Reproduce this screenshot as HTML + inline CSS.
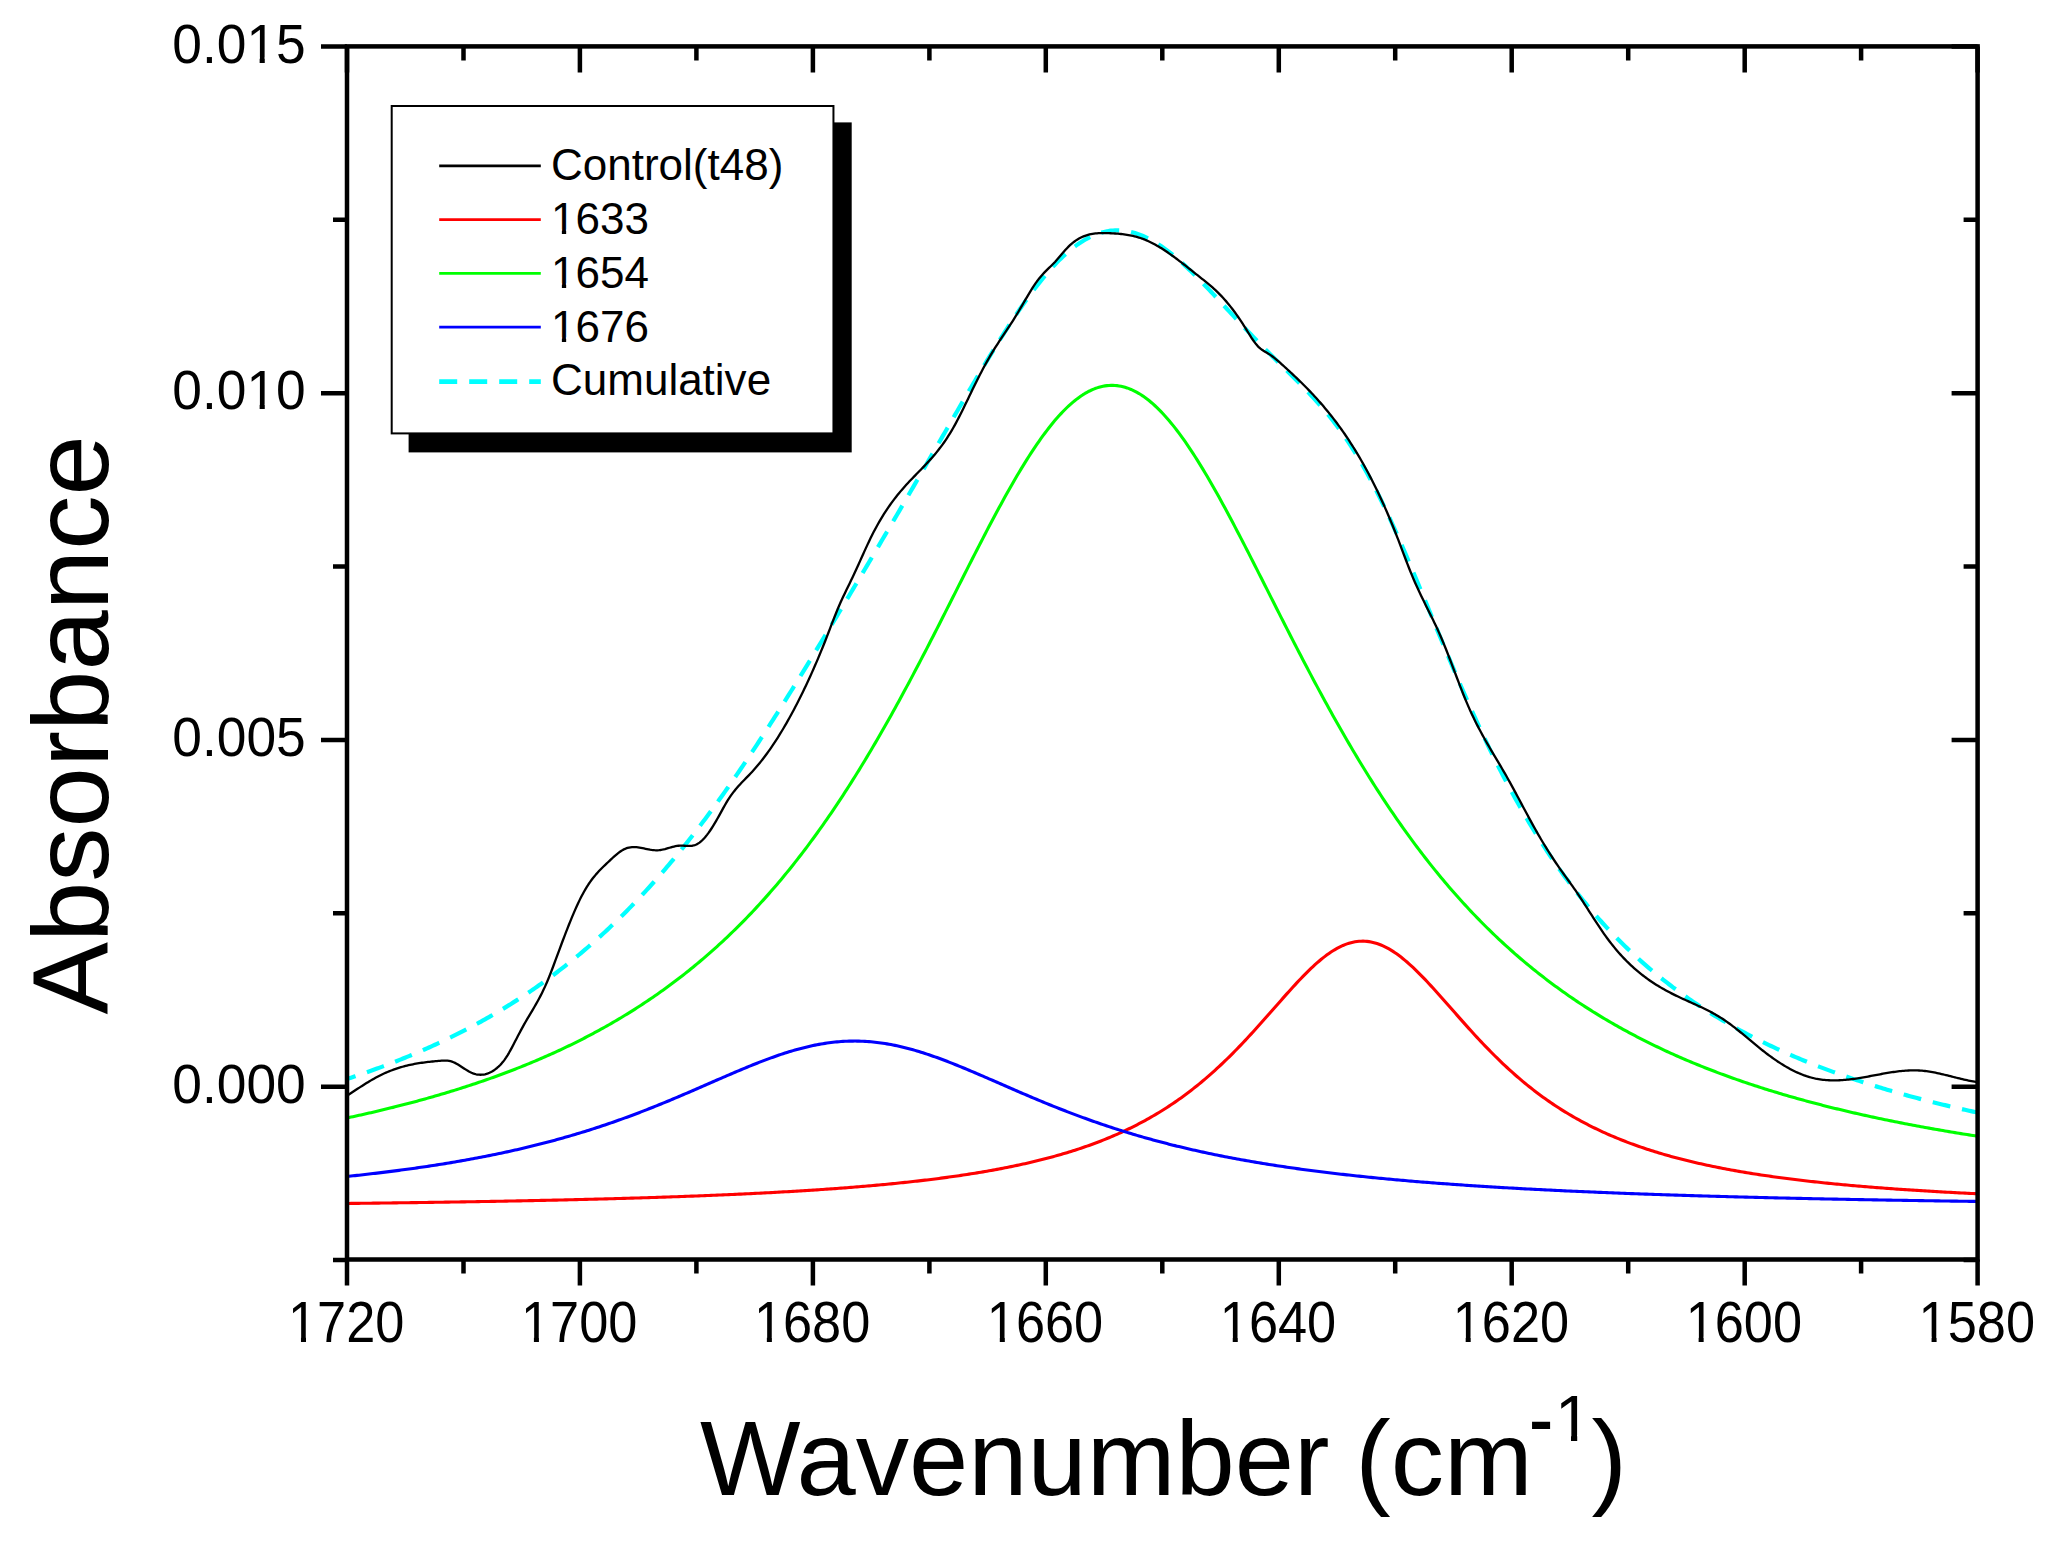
<!DOCTYPE html>
<html><head><meta charset="utf-8"><style>
html,body{margin:0;padding:0;background:#fff;}
body{width:2057px;height:1543px;overflow:hidden;}
svg{display:block;}
text{font-family:"Liberation Sans",Arial,sans-serif;fill:#000;}
</style></head><body>
<svg width="2057" height="1543" viewBox="0 0 2057 1543">
<rect width="2057" height="1543" fill="#fff"/>
<defs><clipPath id="pa"><rect x="347.0" y="46.4" width="1630.6" height="1213.1"/></clipPath>
<clipPath id="c0"><rect x="-67.83" y="-56.50" width="135.66" height="51.19"/><rect x="-67.83" y="-5.65" width="7.79" height="19.77"/><rect x="-48.85" y="-5.65" width="5.43" height="19.77"/><rect x="-32.68" y="-5.65" width="100.51" height="19.77"/></clipPath><clipPath id="c1"><rect x="-67.83" y="-56.50" width="135.66" height="51.19"/><rect x="-67.83" y="-5.65" width="7.79" height="19.77"/><rect x="-48.85" y="-5.65" width="5.43" height="19.77"/><rect x="-32.68" y="-5.65" width="100.51" height="19.77"/></clipPath><clipPath id="c2"><rect x="-67.83" y="-56.50" width="135.66" height="51.19"/><rect x="-67.83" y="-5.65" width="7.79" height="19.77"/><rect x="-48.85" y="-5.65" width="5.43" height="19.77"/><rect x="-32.68" y="-5.65" width="100.51" height="19.77"/></clipPath><clipPath id="c3"><rect x="-67.83" y="-56.50" width="135.66" height="51.19"/><rect x="-67.83" y="-5.65" width="7.79" height="19.77"/><rect x="-48.85" y="-5.65" width="5.43" height="19.77"/><rect x="-32.68" y="-5.65" width="100.51" height="19.77"/></clipPath><clipPath id="c4"><rect x="-67.83" y="-56.50" width="135.66" height="51.19"/><rect x="-67.83" y="-5.65" width="7.79" height="19.77"/><rect x="-48.85" y="-5.65" width="5.43" height="19.77"/><rect x="-32.68" y="-5.65" width="100.51" height="19.77"/></clipPath><clipPath id="c5"><rect x="-67.83" y="-56.50" width="135.66" height="51.19"/><rect x="-67.83" y="-5.65" width="7.79" height="19.77"/><rect x="-48.85" y="-5.65" width="5.43" height="19.77"/><rect x="-32.68" y="-5.65" width="100.51" height="19.77"/></clipPath><clipPath id="c6"><rect x="-67.83" y="-56.50" width="135.66" height="51.19"/><rect x="-67.83" y="-5.65" width="7.79" height="19.77"/><rect x="-48.85" y="-5.65" width="5.43" height="19.77"/><rect x="-32.68" y="-5.65" width="100.51" height="19.77"/></clipPath><clipPath id="c7"><rect x="-67.83" y="-56.50" width="135.66" height="51.19"/><rect x="-67.83" y="-5.65" width="7.79" height="19.77"/><rect x="-48.85" y="-5.65" width="5.43" height="19.77"/><rect x="-32.68" y="-5.65" width="100.51" height="19.77"/></clipPath><clipPath id="c8"><rect x="-145.11" y="-56.00" width="150.11" height="50.74"/><rect x="-145.11" y="-5.60" width="85.60" height="19.60"/><rect x="-48.42" y="-5.60" width="5.38" height="19.60"/><rect x="-32.38" y="-5.60" width="37.38" height="19.60"/></clipPath><clipPath id="c9"><rect x="-145.11" y="-56.00" width="150.11" height="50.74"/><rect x="-145.11" y="-5.60" width="85.60" height="19.60"/><rect x="-48.42" y="-5.60" width="5.38" height="19.60"/><rect x="-32.38" y="-5.60" width="37.38" height="19.60"/></clipPath><clipPath id="c10"><rect x="-5.00" y="-45.00" width="110.08" height="40.77"/><rect x="-5.00" y="-4.50" width="6.92" height="15.75"/><rect x="11.10" y="-4.50" width="4.40" height="15.75"/><rect x="24.32" y="-4.50" width="80.77" height="15.75"/></clipPath><clipPath id="c11"><rect x="-5.00" y="-45.00" width="110.08" height="40.77"/><rect x="-5.00" y="-4.50" width="6.92" height="15.75"/><rect x="11.10" y="-4.50" width="4.40" height="15.75"/><rect x="24.32" y="-4.50" width="80.77" height="15.75"/></clipPath><clipPath id="c12"><rect x="-5.00" y="-45.00" width="110.08" height="40.77"/><rect x="-5.00" y="-4.50" width="6.92" height="15.75"/><rect x="11.10" y="-4.50" width="4.40" height="15.75"/><rect x="24.32" y="-4.50" width="80.77" height="15.75"/></clipPath><clipPath id="csup"><rect x="0" y="1300" width="1550" height="250"/><rect x="1550" y="1300" width="60" height="134.89"/><rect x="1571.02" y="1400" width="6.19" height="50"/><rect x="1590" y="1300" width="100" height="250"/></clipPath></defs>
<g clip-path="url(#pa)" fill="none" stroke-linejoin="round">
<path d="M347.0 1203.47 L349.0 1203.45 L351.0 1203.42 L353.0 1203.40 L355.0 1203.38 L357.0 1203.35 L359.0 1203.33 L361.0 1203.30 L363.0 1203.28 L365.0 1203.26 L367.0 1203.23 L369.0 1203.21 L371.0 1203.18 L373.0 1203.16 L375.0 1203.13 L377.0 1203.11 L379.0 1203.08 L381.0 1203.06 L383.0 1203.03 L385.0 1203.01 L387.0 1202.98 L389.0 1202.96 L391.0 1202.93 L393.0 1202.90 L395.0 1202.88 L397.0 1202.85 L399.0 1202.82 L401.0 1202.80 L403.0 1202.77 L405.0 1202.74 L407.0 1202.72 L409.0 1202.69 L411.0 1202.66 L413.0 1202.63 L415.0 1202.60 L417.0 1202.58 L419.0 1202.55 L421.0 1202.52 L423.0 1202.49 L425.0 1202.46 L427.0 1202.43 L429.0 1202.40 L431.0 1202.37 L433.0 1202.34 L435.0 1202.31 L437.0 1202.28 L439.0 1202.25 L441.0 1202.22 L443.0 1202.19 L445.0 1202.16 L447.0 1202.13 L449.0 1202.10 L451.0 1202.07 L453.0 1202.04 L455.0 1202.01 L457.0 1201.97 L459.0 1201.94 L461.0 1201.91 L463.0 1201.88 L465.0 1201.84 L467.0 1201.81 L469.0 1201.78 L471.0 1201.74 L473.0 1201.71 L475.0 1201.68 L477.0 1201.64 L479.0 1201.61 L481.0 1201.57 L483.0 1201.54 L485.0 1201.50 L487.0 1201.47 L489.0 1201.43 L491.0 1201.40 L493.0 1201.36 L495.0 1201.33 L497.0 1201.29 L499.0 1201.25 L501.0 1201.22 L503.0 1201.18 L505.0 1201.14 L507.0 1201.10 L509.0 1201.07 L511.0 1201.03 L513.0 1200.99 L515.0 1200.95 L517.0 1200.91 L519.0 1200.87 L521.0 1200.83 L523.0 1200.79 L525.0 1200.75 L527.0 1200.71 L529.0 1200.67 L531.0 1200.63 L533.0 1200.59 L535.0 1200.55 L537.0 1200.51 L539.0 1200.47 L541.0 1200.42 L543.0 1200.38 L545.0 1200.34 L547.0 1200.30 L549.0 1200.25 L551.0 1200.21 L553.0 1200.16 L555.0 1200.12 L557.0 1200.08 L559.0 1200.03 L561.0 1199.99 L563.0 1199.94 L565.0 1199.89 L567.0 1199.85 L569.0 1199.80 L571.0 1199.75 L573.0 1199.71 L575.0 1199.66 L577.0 1199.61 L579.0 1199.56 L581.0 1199.51 L583.0 1199.46 L585.0 1199.42 L587.0 1199.37 L589.0 1199.32 L591.0 1199.26 L593.0 1199.21 L595.0 1199.16 L597.0 1199.11 L599.0 1199.06 L601.0 1199.01 L603.0 1198.95 L605.0 1198.90 L607.0 1198.85 L609.0 1198.79 L611.0 1198.74 L613.0 1198.68 L615.0 1198.63 L617.0 1198.57 L619.0 1198.52 L621.0 1198.46 L623.0 1198.40 L625.0 1198.35 L627.0 1198.29 L629.0 1198.23 L631.0 1198.17 L633.0 1198.11 L635.0 1198.05 L637.0 1197.99 L639.0 1197.93 L641.0 1197.87 L643.0 1197.81 L645.0 1197.75 L647.0 1197.68 L649.0 1197.62 L651.0 1197.56 L653.0 1197.49 L655.0 1197.43 L657.0 1197.36 L659.0 1197.30 L661.0 1197.23 L663.0 1197.16 L665.0 1197.10 L667.0 1197.03 L669.0 1196.96 L671.0 1196.89 L673.0 1196.82 L675.0 1196.75 L677.0 1196.68 L679.0 1196.61 L681.0 1196.54 L683.0 1196.47 L685.0 1196.39 L687.0 1196.32 L689.0 1196.25 L691.0 1196.17 L693.0 1196.10 L695.0 1196.02 L697.0 1195.94 L699.0 1195.87 L701.0 1195.79 L703.0 1195.71 L705.0 1195.63 L707.0 1195.55 L709.0 1195.47 L711.0 1195.39 L713.0 1195.31 L715.0 1195.22 L717.0 1195.14 L719.0 1195.06 L721.0 1194.97 L723.0 1194.89 L725.0 1194.80 L727.0 1194.71 L729.0 1194.62 L731.0 1194.54 L733.0 1194.45 L735.0 1194.36 L737.0 1194.26 L739.0 1194.17 L741.0 1194.08 L743.0 1193.99 L745.0 1193.89 L747.0 1193.80 L749.0 1193.70 L751.0 1193.60 L753.0 1193.51 L755.0 1193.41 L757.0 1193.31 L759.0 1193.21 L761.0 1193.11 L763.0 1193.00 L765.0 1192.90 L767.0 1192.79 L769.0 1192.69 L771.0 1192.58 L773.0 1192.48 L775.0 1192.37 L777.0 1192.26 L779.0 1192.15 L781.0 1192.04 L783.0 1191.92 L785.0 1191.81 L787.0 1191.70 L789.0 1191.58 L791.0 1191.46 L793.0 1191.35 L795.0 1191.23 L797.0 1191.11 L799.0 1190.99 L801.0 1190.86 L803.0 1190.74 L805.0 1190.61 L807.0 1190.49 L809.0 1190.36 L811.0 1190.23 L813.0 1190.10 L815.0 1189.97 L817.0 1189.84 L819.0 1189.70 L821.0 1189.57 L823.0 1189.43 L825.0 1189.29 L827.0 1189.16 L829.0 1189.01 L831.0 1188.87 L833.0 1188.73 L835.0 1188.58 L837.0 1188.44 L839.0 1188.29 L841.0 1188.14 L843.0 1187.99 L845.0 1187.84 L847.0 1187.68 L849.0 1187.53 L851.0 1187.37 L853.0 1187.21 L855.0 1187.05 L857.0 1186.89 L859.0 1186.72 L861.0 1186.56 L863.0 1186.39 L865.0 1186.22 L867.0 1186.05 L869.0 1185.87 L871.0 1185.70 L873.0 1185.52 L875.0 1185.34 L877.0 1185.16 L879.0 1184.98 L881.0 1184.79 L883.0 1184.61 L885.0 1184.42 L887.0 1184.23 L889.0 1184.03 L891.0 1183.84 L893.0 1183.64 L895.0 1183.44 L897.0 1183.24 L899.0 1183.04 L901.0 1182.83 L903.0 1182.62 L905.0 1182.41 L907.0 1182.19 L909.0 1181.98 L911.0 1181.76 L913.0 1181.54 L915.0 1181.32 L917.0 1181.09 L919.0 1180.86 L921.0 1180.63 L923.0 1180.39 L925.0 1180.16 L927.0 1179.92 L929.0 1179.67 L931.0 1179.43 L933.0 1179.18 L935.0 1178.93 L937.0 1178.67 L939.0 1178.42 L941.0 1178.16 L943.0 1177.89 L945.0 1177.63 L947.0 1177.36 L949.0 1177.08 L951.0 1176.81 L953.0 1176.52 L955.0 1176.24 L957.0 1175.95 L959.0 1175.66 L961.0 1175.37 L963.0 1175.07 L965.0 1174.77 L967.0 1174.46 L969.0 1174.15 L971.0 1173.84 L973.0 1173.52 L975.0 1173.20 L977.0 1172.88 L979.0 1172.55 L981.0 1172.21 L983.0 1171.87 L985.0 1171.53 L987.0 1171.18 L989.0 1170.83 L991.0 1170.48 L993.0 1170.12 L995.0 1169.75 L997.0 1169.38 L999.0 1169.00 L1001.0 1168.62 L1003.0 1168.24 L1005.0 1167.85 L1007.0 1167.45 L1009.0 1167.05 L1011.0 1166.64 L1013.0 1166.23 L1015.0 1165.82 L1017.0 1165.39 L1019.0 1164.96 L1021.0 1164.53 L1023.0 1164.09 L1025.0 1163.64 L1027.0 1163.19 L1029.0 1162.73 L1031.0 1162.26 L1033.0 1161.79 L1035.0 1161.31 L1037.0 1160.82 L1039.0 1160.33 L1041.0 1159.83 L1043.0 1159.33 L1045.0 1158.81 L1047.0 1158.29 L1049.0 1157.76 L1051.0 1157.23 L1053.0 1156.68 L1055.0 1156.13 L1057.0 1155.57 L1059.0 1155.00 L1061.0 1154.43 L1063.0 1153.84 L1065.0 1153.25 L1067.0 1152.65 L1069.0 1152.04 L1071.0 1151.42 L1073.0 1150.79 L1075.0 1150.15 L1077.0 1149.51 L1079.0 1148.85 L1081.0 1148.18 L1083.0 1147.51 L1085.0 1146.82 L1087.0 1146.12 L1089.0 1145.42 L1091.0 1144.70 L1093.0 1143.97 L1095.0 1143.23 L1097.0 1142.48 L1099.0 1141.71 L1101.0 1140.94 L1103.0 1140.15 L1105.0 1139.36 L1107.0 1138.55 L1109.0 1137.72 L1111.0 1136.89 L1113.0 1136.04 L1115.0 1135.18 L1117.0 1134.30 L1119.0 1133.42 L1121.0 1132.51 L1123.0 1131.60 L1125.0 1130.67 L1127.0 1129.72 L1129.0 1128.77 L1131.0 1127.79 L1133.0 1126.80 L1135.0 1125.80 L1137.0 1124.78 L1139.0 1123.74 L1141.0 1122.69 L1143.0 1121.62 L1145.0 1120.54 L1147.0 1119.44 L1149.0 1118.32 L1151.0 1117.18 L1153.0 1116.03 L1155.0 1114.86 L1157.0 1113.67 L1159.0 1112.46 L1161.0 1111.24 L1163.0 1109.99 L1165.0 1108.73 L1167.0 1107.44 L1169.0 1106.14 L1171.0 1104.82 L1173.0 1103.47 L1175.0 1102.11 L1177.0 1100.73 L1179.0 1099.32 L1181.0 1097.90 L1183.0 1096.45 L1185.0 1094.98 L1187.0 1093.49 L1189.0 1091.98 L1191.0 1090.45 L1193.0 1088.89 L1195.0 1087.32 L1197.0 1085.72 L1199.0 1084.09 L1201.0 1082.45 L1203.0 1080.78 L1205.0 1079.09 L1207.0 1077.38 L1209.0 1075.64 L1211.0 1073.88 L1213.0 1072.10 L1215.0 1070.30 L1217.0 1068.47 L1219.0 1066.62 L1221.0 1064.75 L1223.0 1062.85 L1225.0 1060.93 L1227.0 1059.00 L1229.0 1057.03 L1231.0 1055.05 L1233.0 1053.05 L1235.0 1051.02 L1237.0 1048.98 L1239.0 1046.91 L1241.0 1044.83 L1243.0 1042.73 L1245.0 1040.61 L1247.0 1038.47 L1249.0 1036.31 L1251.0 1034.14 L1253.0 1031.95 L1255.0 1029.75 L1257.0 1027.54 L1259.0 1025.31 L1261.0 1023.08 L1263.0 1020.83 L1265.0 1018.57 L1267.0 1016.31 L1269.0 1014.04 L1271.0 1011.77 L1273.0 1009.50 L1275.0 1007.22 L1277.0 1004.95 L1279.0 1002.67 L1281.0 1000.41 L1283.0 998.15 L1285.0 995.89 L1287.0 993.65 L1289.0 991.42 L1291.0 989.21 L1293.0 987.01 L1295.0 984.83 L1297.0 982.68 L1299.0 980.55 L1301.0 978.45 L1303.0 976.38 L1305.0 974.34 L1307.0 972.33 L1309.0 970.37 L1311.0 968.44 L1313.0 966.56 L1315.0 964.73 L1317.0 962.95 L1319.0 961.21 L1321.0 959.54 L1323.0 957.92 L1325.0 956.36 L1327.0 954.86 L1329.0 953.43 L1331.0 952.07 L1333.0 950.78 L1335.0 949.56 L1337.0 948.41 L1339.0 947.35 L1341.0 946.36 L1343.0 945.45 L1345.0 944.63 L1347.0 943.89 L1349.0 943.24 L1351.0 942.67 L1353.0 942.19 L1355.0 941.81 L1357.0 941.51 L1359.0 941.30 L1361.0 941.19 L1363.0 941.16 L1365.0 941.23 L1367.0 941.39 L1369.0 941.64 L1371.0 941.98 L1373.0 942.41 L1375.0 942.93 L1377.0 943.54 L1379.0 944.23 L1381.0 945.01 L1383.0 945.87 L1385.0 946.82 L1387.0 947.84 L1389.0 948.95 L1391.0 950.13 L1393.0 951.38 L1395.0 952.71 L1397.0 954.10 L1399.0 955.57 L1401.0 957.09 L1403.0 958.68 L1405.0 960.33 L1407.0 962.03 L1409.0 963.79 L1411.0 965.60 L1413.0 967.45 L1415.0 969.35 L1417.0 971.30 L1419.0 973.28 L1421.0 975.30 L1423.0 977.36 L1425.0 979.44 L1427.0 981.56 L1429.0 983.70 L1431.0 985.87 L1433.0 988.05 L1435.0 990.26 L1437.0 992.48 L1439.0 994.72 L1441.0 996.96 L1443.0 999.22 L1445.0 1001.49 L1447.0 1003.76 L1449.0 1006.03 L1451.0 1008.30 L1453.0 1010.58 L1455.0 1012.85 L1457.0 1015.12 L1459.0 1017.39 L1461.0 1019.65 L1463.0 1021.90 L1465.0 1024.14 L1467.0 1026.37 L1469.0 1028.59 L1471.0 1030.80 L1473.0 1033.00 L1475.0 1035.18 L1477.0 1037.34 L1479.0 1039.49 L1481.0 1041.62 L1483.0 1043.73 L1485.0 1045.82 L1487.0 1047.90 L1489.0 1049.95 L1491.0 1051.99 L1493.0 1054.00 L1495.0 1056.00 L1497.0 1057.97 L1499.0 1059.92 L1501.0 1061.85 L1503.0 1063.76 L1505.0 1065.64 L1507.0 1067.50 L1509.0 1069.34 L1511.0 1071.16 L1513.0 1072.95 L1515.0 1074.72 L1517.0 1076.47 L1519.0 1078.20 L1521.0 1079.90 L1523.0 1081.58 L1525.0 1083.24 L1527.0 1084.87 L1529.0 1086.48 L1531.0 1088.07 L1533.0 1089.64 L1535.0 1091.18 L1537.0 1092.70 L1539.0 1094.20 L1541.0 1095.68 L1543.0 1097.14 L1545.0 1098.58 L1547.0 1099.99 L1549.0 1101.39 L1551.0 1102.76 L1553.0 1104.12 L1555.0 1105.45 L1557.0 1106.76 L1559.0 1108.06 L1561.0 1109.33 L1563.0 1110.59 L1565.0 1111.82 L1567.0 1113.04 L1569.0 1114.24 L1571.0 1115.42 L1573.0 1116.58 L1575.0 1117.73 L1577.0 1118.85 L1579.0 1119.96 L1581.0 1121.06 L1583.0 1122.13 L1585.0 1123.19 L1587.0 1124.24 L1589.0 1125.27 L1591.0 1126.28 L1593.0 1127.28 L1595.0 1128.26 L1597.0 1129.22 L1599.0 1130.18 L1601.0 1131.11 L1603.0 1132.04 L1605.0 1132.95 L1607.0 1133.84 L1609.0 1134.72 L1611.0 1135.59 L1613.0 1136.45 L1615.0 1137.29 L1617.0 1138.12 L1619.0 1138.93 L1621.0 1139.74 L1623.0 1140.53 L1625.0 1141.31 L1627.0 1142.08 L1629.0 1142.84 L1631.0 1143.58 L1633.0 1144.32 L1635.0 1145.04 L1637.0 1145.75 L1639.0 1146.46 L1641.0 1147.15 L1643.0 1147.83 L1645.0 1148.50 L1647.0 1149.16 L1649.0 1149.82 L1651.0 1150.46 L1653.0 1151.09 L1655.0 1151.72 L1657.0 1152.33 L1659.0 1152.94 L1661.0 1153.53 L1663.0 1154.12 L1665.0 1154.70 L1667.0 1155.28 L1669.0 1155.84 L1671.0 1156.40 L1673.0 1156.94 L1675.0 1157.48 L1677.0 1158.02 L1679.0 1158.54 L1681.0 1159.06 L1683.0 1159.57 L1685.0 1160.07 L1687.0 1160.57 L1689.0 1161.06 L1691.0 1161.54 L1693.0 1162.01 L1695.0 1162.48 L1697.0 1162.95 L1699.0 1163.40 L1701.0 1163.85 L1703.0 1164.30 L1705.0 1164.74 L1707.0 1165.17 L1709.0 1165.59 L1711.0 1166.01 L1713.0 1166.43 L1715.0 1166.84 L1717.0 1167.24 L1719.0 1167.64 L1721.0 1168.03 L1723.0 1168.42 L1725.0 1168.81 L1727.0 1169.18 L1729.0 1169.56 L1731.0 1169.92 L1733.0 1170.29 L1735.0 1170.65 L1737.0 1171.00 L1739.0 1171.35 L1741.0 1171.69 L1743.0 1172.04 L1745.0 1172.37 L1747.0 1172.70 L1749.0 1173.03 L1751.0 1173.35 L1753.0 1173.67 L1755.0 1173.99 L1757.0 1174.30 L1759.0 1174.61 L1761.0 1174.91 L1763.0 1175.21 L1765.0 1175.51 L1767.0 1175.80 L1769.0 1176.09 L1771.0 1176.38 L1773.0 1176.66 L1775.0 1176.94 L1777.0 1177.21 L1779.0 1177.48 L1781.0 1177.75 L1783.0 1178.02 L1785.0 1178.28 L1787.0 1178.54 L1789.0 1178.80 L1791.0 1179.05 L1793.0 1179.30 L1795.0 1179.55 L1797.0 1179.79 L1799.0 1180.03 L1801.0 1180.27 L1803.0 1180.51 L1805.0 1180.74 L1807.0 1180.97 L1809.0 1181.20 L1811.0 1181.42 L1813.0 1181.64 L1815.0 1181.86 L1817.0 1182.08 L1819.0 1182.30 L1821.0 1182.51 L1823.0 1182.72 L1825.0 1182.93 L1827.0 1183.13 L1829.0 1183.34 L1831.0 1183.54 L1833.0 1183.74 L1835.0 1183.93 L1837.0 1184.13 L1839.0 1184.32 L1841.0 1184.51 L1843.0 1184.70 L1845.0 1184.88 L1847.0 1185.07 L1849.0 1185.25 L1851.0 1185.43 L1853.0 1185.61 L1855.0 1185.78 L1857.0 1185.96 L1859.0 1186.13 L1861.0 1186.30 L1863.0 1186.47 L1865.0 1186.63 L1867.0 1186.80 L1869.0 1186.96 L1871.0 1187.13 L1873.0 1187.29 L1875.0 1187.44 L1877.0 1187.60 L1879.0 1187.76 L1881.0 1187.91 L1883.0 1188.06 L1885.0 1188.21 L1887.0 1188.36 L1889.0 1188.51 L1891.0 1188.65 L1893.0 1188.80 L1895.0 1188.94 L1897.0 1189.08 L1899.0 1189.22 L1901.0 1189.36 L1903.0 1189.50 L1905.0 1189.63 L1907.0 1189.77 L1909.0 1189.90 L1911.0 1190.03 L1913.0 1190.16 L1915.0 1190.29 L1917.0 1190.42 L1919.0 1190.55 L1921.0 1190.67 L1923.0 1190.80 L1925.0 1190.92 L1927.0 1191.04 L1929.0 1191.16 L1931.0 1191.28 L1933.0 1191.40 L1935.0 1191.52 L1937.0 1191.64 L1939.0 1191.75 L1941.0 1191.87 L1943.0 1191.98 L1945.0 1192.09 L1947.0 1192.20 L1949.0 1192.31 L1951.0 1192.42 L1953.0 1192.53 L1955.0 1192.63 L1957.0 1192.74 L1959.0 1192.84 L1961.0 1192.95 L1963.0 1193.05 L1965.0 1193.15 L1967.0 1193.25 L1969.0 1193.35 L1971.0 1193.45 L1973.0 1193.55 L1975.0 1193.65 L1977.0 1193.75" stroke="#ff0000" stroke-width="3.1"/>
<path d="M347.0 1176.46 L349.0 1176.25 L351.0 1176.04 L353.0 1175.83 L355.0 1175.61 L357.0 1175.39 L359.0 1175.17 L361.0 1174.95 L363.0 1174.73 L365.0 1174.50 L367.0 1174.28 L369.0 1174.05 L371.0 1173.82 L373.0 1173.58 L375.0 1173.35 L377.0 1173.11 L379.0 1172.87 L381.0 1172.63 L383.0 1172.38 L385.0 1172.14 L387.0 1171.89 L389.0 1171.64 L391.0 1171.39 L393.0 1171.13 L395.0 1170.87 L397.0 1170.61 L399.0 1170.35 L401.0 1170.08 L403.0 1169.82 L405.0 1169.55 L407.0 1169.28 L409.0 1169.00 L411.0 1168.72 L413.0 1168.44 L415.0 1168.16 L417.0 1167.88 L419.0 1167.59 L421.0 1167.30 L423.0 1167.01 L425.0 1166.71 L427.0 1166.41 L429.0 1166.11 L431.0 1165.81 L433.0 1165.50 L435.0 1165.19 L437.0 1164.88 L439.0 1164.56 L441.0 1164.24 L443.0 1163.92 L445.0 1163.60 L447.0 1163.27 L449.0 1162.94 L451.0 1162.61 L453.0 1162.27 L455.0 1161.93 L457.0 1161.59 L459.0 1161.24 L461.0 1160.89 L463.0 1160.54 L465.0 1160.18 L467.0 1159.82 L469.0 1159.46 L471.0 1159.09 L473.0 1158.72 L475.0 1158.35 L477.0 1157.97 L479.0 1157.59 L481.0 1157.21 L483.0 1156.82 L485.0 1156.43 L487.0 1156.04 L489.0 1155.64 L491.0 1155.23 L493.0 1154.83 L495.0 1154.42 L497.0 1154.00 L499.0 1153.59 L501.0 1153.16 L503.0 1152.74 L505.0 1152.31 L507.0 1151.87 L509.0 1151.43 L511.0 1150.99 L513.0 1150.55 L515.0 1150.10 L517.0 1149.64 L519.0 1149.18 L521.0 1148.72 L523.0 1148.25 L525.0 1147.78 L527.0 1147.30 L529.0 1146.82 L531.0 1146.33 L533.0 1145.84 L535.0 1145.35 L537.0 1144.85 L539.0 1144.35 L541.0 1143.84 L543.0 1143.32 L545.0 1142.81 L547.0 1142.28 L549.0 1141.76 L551.0 1141.22 L553.0 1140.69 L555.0 1140.14 L557.0 1139.60 L559.0 1139.04 L561.0 1138.49 L563.0 1137.92 L565.0 1137.36 L567.0 1136.79 L569.0 1136.21 L571.0 1135.63 L573.0 1135.04 L575.0 1134.45 L577.0 1133.85 L579.0 1133.24 L581.0 1132.64 L583.0 1132.02 L585.0 1131.40 L587.0 1130.78 L589.0 1130.15 L591.0 1129.51 L593.0 1128.87 L595.0 1128.23 L597.0 1127.58 L599.0 1126.92 L601.0 1126.26 L603.0 1125.59 L605.0 1124.92 L607.0 1124.24 L609.0 1123.56 L611.0 1122.87 L613.0 1122.18 L615.0 1121.48 L617.0 1120.77 L619.0 1120.06 L621.0 1119.35 L623.0 1118.63 L625.0 1117.90 L627.0 1117.17 L629.0 1116.44 L631.0 1115.70 L633.0 1114.95 L635.0 1114.20 L637.0 1113.44 L639.0 1112.68 L641.0 1111.91 L643.0 1111.14 L645.0 1110.36 L647.0 1109.58 L649.0 1108.80 L651.0 1108.01 L653.0 1107.21 L655.0 1106.41 L657.0 1105.61 L659.0 1104.80 L661.0 1103.99 L663.0 1103.17 L665.0 1102.35 L667.0 1101.52 L669.0 1100.70 L671.0 1099.86 L673.0 1099.03 L675.0 1098.19 L677.0 1097.34 L679.0 1096.50 L681.0 1095.65 L683.0 1094.80 L685.0 1093.94 L687.0 1093.08 L689.0 1092.22 L691.0 1091.36 L693.0 1090.50 L695.0 1089.63 L697.0 1088.76 L699.0 1087.89 L701.0 1087.02 L703.0 1086.15 L705.0 1085.28 L707.0 1084.41 L709.0 1083.53 L711.0 1082.66 L713.0 1081.79 L715.0 1080.91 L717.0 1080.04 L719.0 1079.17 L721.0 1078.30 L723.0 1077.43 L725.0 1076.57 L727.0 1075.70 L729.0 1074.84 L731.0 1073.98 L733.0 1073.12 L735.0 1072.27 L737.0 1071.42 L739.0 1070.57 L741.0 1069.73 L743.0 1068.90 L745.0 1068.07 L747.0 1067.24 L749.0 1066.42 L751.0 1065.61 L753.0 1064.80 L755.0 1064.00 L757.0 1063.21 L759.0 1062.42 L761.0 1061.64 L763.0 1060.87 L765.0 1060.11 L767.0 1059.36 L769.0 1058.62 L771.0 1057.89 L773.0 1057.17 L775.0 1056.46 L777.0 1055.76 L779.0 1055.08 L781.0 1054.40 L783.0 1053.74 L785.0 1053.09 L787.0 1052.45 L789.0 1051.83 L791.0 1051.22 L793.0 1050.63 L795.0 1050.05 L797.0 1049.48 L799.0 1048.93 L801.0 1048.40 L803.0 1047.88 L805.0 1047.38 L807.0 1046.90 L809.0 1046.43 L811.0 1045.99 L813.0 1045.56 L815.0 1045.14 L817.0 1044.75 L819.0 1044.37 L821.0 1044.02 L823.0 1043.68 L825.0 1043.36 L827.0 1043.07 L829.0 1042.79 L831.0 1042.53 L833.0 1042.29 L835.0 1042.08 L837.0 1041.88 L839.0 1041.71 L841.0 1041.55 L843.0 1041.42 L845.0 1041.31 L847.0 1041.22 L849.0 1041.15 L851.0 1041.10 L853.0 1041.08 L855.0 1041.07 L857.0 1041.09 L859.0 1041.13 L861.0 1041.19 L863.0 1041.27 L865.0 1041.37 L867.0 1041.49 L869.0 1041.64 L871.0 1041.81 L873.0 1041.99 L875.0 1042.20 L877.0 1042.43 L879.0 1042.68 L881.0 1042.95 L883.0 1043.24 L885.0 1043.54 L887.0 1043.87 L889.0 1044.22 L891.0 1044.59 L893.0 1044.97 L895.0 1045.38 L897.0 1045.80 L899.0 1046.24 L901.0 1046.70 L903.0 1047.18 L905.0 1047.67 L907.0 1048.18 L909.0 1048.71 L911.0 1049.25 L913.0 1049.81 L915.0 1050.38 L917.0 1050.97 L919.0 1051.57 L921.0 1052.19 L923.0 1052.82 L925.0 1053.46 L927.0 1054.12 L929.0 1054.79 L931.0 1055.47 L933.0 1056.16 L935.0 1056.87 L937.0 1057.58 L939.0 1058.31 L941.0 1059.05 L943.0 1059.79 L945.0 1060.55 L947.0 1061.32 L949.0 1062.09 L951.0 1062.87 L953.0 1063.66 L955.0 1064.46 L957.0 1065.26 L959.0 1066.07 L961.0 1066.89 L963.0 1067.72 L965.0 1068.54 L967.0 1069.38 L969.0 1070.22 L971.0 1071.06 L973.0 1071.91 L975.0 1072.76 L977.0 1073.62 L979.0 1074.47 L981.0 1075.33 L983.0 1076.20 L985.0 1077.06 L987.0 1077.93 L989.0 1078.80 L991.0 1079.67 L993.0 1080.54 L995.0 1081.42 L997.0 1082.29 L999.0 1083.16 L1001.0 1084.04 L1003.0 1084.91 L1005.0 1085.78 L1007.0 1086.65 L1009.0 1087.53 L1011.0 1088.40 L1013.0 1089.26 L1015.0 1090.13 L1017.0 1091.00 L1019.0 1091.86 L1021.0 1092.72 L1023.0 1093.58 L1025.0 1094.43 L1027.0 1095.29 L1029.0 1096.14 L1031.0 1096.99 L1033.0 1097.83 L1035.0 1098.67 L1037.0 1099.51 L1039.0 1100.34 L1041.0 1101.17 L1043.0 1102.00 L1045.0 1102.82 L1047.0 1103.64 L1049.0 1104.46 L1051.0 1105.27 L1053.0 1106.07 L1055.0 1106.87 L1057.0 1107.67 L1059.0 1108.46 L1061.0 1109.25 L1063.0 1110.03 L1065.0 1110.81 L1067.0 1111.59 L1069.0 1112.35 L1071.0 1113.12 L1073.0 1113.88 L1075.0 1114.63 L1077.0 1115.38 L1079.0 1116.12 L1081.0 1116.86 L1083.0 1117.59 L1085.0 1118.32 L1087.0 1119.04 L1089.0 1119.76 L1091.0 1120.47 L1093.0 1121.18 L1095.0 1121.88 L1097.0 1122.58 L1099.0 1123.27 L1101.0 1123.95 L1103.0 1124.63 L1105.0 1125.31 L1107.0 1125.98 L1109.0 1126.64 L1111.0 1127.30 L1113.0 1127.95 L1115.0 1128.60 L1117.0 1129.24 L1119.0 1129.88 L1121.0 1130.51 L1123.0 1131.14 L1125.0 1131.76 L1127.0 1132.38 L1129.0 1132.99 L1131.0 1133.59 L1133.0 1134.19 L1135.0 1134.79 L1137.0 1135.38 L1139.0 1135.96 L1141.0 1136.54 L1143.0 1137.12 L1145.0 1137.68 L1147.0 1138.25 L1149.0 1138.81 L1151.0 1139.36 L1153.0 1139.91 L1155.0 1140.46 L1157.0 1141.00 L1159.0 1141.53 L1161.0 1142.06 L1163.0 1142.58 L1165.0 1143.10 L1167.0 1143.62 L1169.0 1144.13 L1171.0 1144.64 L1173.0 1145.14 L1175.0 1145.63 L1177.0 1146.13 L1179.0 1146.61 L1181.0 1147.10 L1183.0 1147.58 L1185.0 1148.05 L1187.0 1148.52 L1189.0 1148.98 L1191.0 1149.45 L1193.0 1149.90 L1195.0 1150.36 L1197.0 1150.80 L1199.0 1151.25 L1201.0 1151.69 L1203.0 1152.12 L1205.0 1152.56 L1207.0 1152.98 L1209.0 1153.41 L1211.0 1153.83 L1213.0 1154.24 L1215.0 1154.65 L1217.0 1155.06 L1219.0 1155.47 L1221.0 1155.87 L1223.0 1156.26 L1225.0 1156.66 L1227.0 1157.05 L1229.0 1157.43 L1231.0 1157.81 L1233.0 1158.19 L1235.0 1158.57 L1237.0 1158.94 L1239.0 1159.31 L1241.0 1159.67 L1243.0 1160.03 L1245.0 1160.39 L1247.0 1160.74 L1249.0 1161.09 L1251.0 1161.44 L1253.0 1161.79 L1255.0 1162.13 L1257.0 1162.47 L1259.0 1162.80 L1261.0 1163.13 L1263.0 1163.46 L1265.0 1163.79 L1267.0 1164.11 L1269.0 1164.43 L1271.0 1164.75 L1273.0 1165.06 L1275.0 1165.37 L1277.0 1165.68 L1279.0 1165.98 L1281.0 1166.29 L1283.0 1166.58 L1285.0 1166.88 L1287.0 1167.18 L1289.0 1167.47 L1291.0 1167.76 L1293.0 1168.04 L1295.0 1168.32 L1297.0 1168.61 L1299.0 1168.88 L1301.0 1169.16 L1303.0 1169.43 L1305.0 1169.70 L1307.0 1169.97 L1309.0 1170.24 L1311.0 1170.50 L1313.0 1170.76 L1315.0 1171.02 L1317.0 1171.28 L1319.0 1171.53 L1321.0 1171.78 L1323.0 1172.03 L1325.0 1172.28 L1327.0 1172.52 L1329.0 1172.77 L1331.0 1173.01 L1333.0 1173.25 L1335.0 1173.48 L1337.0 1173.72 L1339.0 1173.95 L1341.0 1174.18 L1343.0 1174.41 L1345.0 1174.63 L1347.0 1174.86 L1349.0 1175.08 L1351.0 1175.30 L1353.0 1175.52 L1355.0 1175.73 L1357.0 1175.95 L1359.0 1176.16 L1361.0 1176.37 L1363.0 1176.58 L1365.0 1176.79 L1367.0 1176.99 L1369.0 1177.20 L1371.0 1177.40 L1373.0 1177.60 L1375.0 1177.80 L1377.0 1177.99 L1379.0 1178.19 L1381.0 1178.38 L1383.0 1178.57 L1385.0 1178.76 L1387.0 1178.95 L1389.0 1179.14 L1391.0 1179.32 L1393.0 1179.51 L1395.0 1179.69 L1397.0 1179.87 L1399.0 1180.05 L1401.0 1180.23 L1403.0 1180.40 L1405.0 1180.58 L1407.0 1180.75 L1409.0 1180.92 L1411.0 1181.09 L1413.0 1181.26 L1415.0 1181.43 L1417.0 1181.59 L1419.0 1181.76 L1421.0 1181.92 L1423.0 1182.08 L1425.0 1182.24 L1427.0 1182.40 L1429.0 1182.56 L1431.0 1182.72 L1433.0 1182.87 L1435.0 1183.03 L1437.0 1183.18 L1439.0 1183.33 L1441.0 1183.48 L1443.0 1183.63 L1445.0 1183.78 L1447.0 1183.92 L1449.0 1184.07 L1451.0 1184.21 L1453.0 1184.36 L1455.0 1184.50 L1457.0 1184.64 L1459.0 1184.78 L1461.0 1184.92 L1463.0 1185.06 L1465.0 1185.19 L1467.0 1185.33 L1469.0 1185.46 L1471.0 1185.60 L1473.0 1185.73 L1475.0 1185.86 L1477.0 1185.99 L1479.0 1186.12 L1481.0 1186.25 L1483.0 1186.37 L1485.0 1186.50 L1487.0 1186.62 L1489.0 1186.75 L1491.0 1186.87 L1493.0 1186.99 L1495.0 1187.12 L1497.0 1187.24 L1499.0 1187.36 L1501.0 1187.47 L1503.0 1187.59 L1505.0 1187.71 L1507.0 1187.82 L1509.0 1187.94 L1511.0 1188.05 L1513.0 1188.17 L1515.0 1188.28 L1517.0 1188.39 L1519.0 1188.50 L1521.0 1188.61 L1523.0 1188.72 L1525.0 1188.83 L1527.0 1188.94 L1529.0 1189.04 L1531.0 1189.15 L1533.0 1189.25 L1535.0 1189.36 L1537.0 1189.46 L1539.0 1189.56 L1541.0 1189.67 L1543.0 1189.77 L1545.0 1189.87 L1547.0 1189.97 L1549.0 1190.07 L1551.0 1190.17 L1553.0 1190.26 L1555.0 1190.36 L1557.0 1190.46 L1559.0 1190.55 L1561.0 1190.65 L1563.0 1190.74 L1565.0 1190.83 L1567.0 1190.93 L1569.0 1191.02 L1571.0 1191.11 L1573.0 1191.20 L1575.0 1191.29 L1577.0 1191.38 L1579.0 1191.47 L1581.0 1191.56 L1583.0 1191.65 L1585.0 1191.73 L1587.0 1191.82 L1589.0 1191.90 L1591.0 1191.99 L1593.0 1192.07 L1595.0 1192.16 L1597.0 1192.24 L1599.0 1192.33 L1601.0 1192.41 L1603.0 1192.49 L1605.0 1192.57 L1607.0 1192.65 L1609.0 1192.73 L1611.0 1192.81 L1613.0 1192.89 L1615.0 1192.97 L1617.0 1193.05 L1619.0 1193.12 L1621.0 1193.20 L1623.0 1193.28 L1625.0 1193.35 L1627.0 1193.43 L1629.0 1193.50 L1631.0 1193.58 L1633.0 1193.65 L1635.0 1193.72 L1637.0 1193.80 L1639.0 1193.87 L1641.0 1193.94 L1643.0 1194.01 L1645.0 1194.08 L1647.0 1194.15 L1649.0 1194.22 L1651.0 1194.29 L1653.0 1194.36 L1655.0 1194.43 L1657.0 1194.50 L1659.0 1194.56 L1661.0 1194.63 L1663.0 1194.70 L1665.0 1194.76 L1667.0 1194.83 L1669.0 1194.90 L1671.0 1194.96 L1673.0 1195.03 L1675.0 1195.09 L1677.0 1195.15 L1679.0 1195.22 L1681.0 1195.28 L1683.0 1195.34 L1685.0 1195.40 L1687.0 1195.47 L1689.0 1195.53 L1691.0 1195.59 L1693.0 1195.65 L1695.0 1195.71 L1697.0 1195.77 L1699.0 1195.83 L1701.0 1195.89 L1703.0 1195.95 L1705.0 1196.00 L1707.0 1196.06 L1709.0 1196.12 L1711.0 1196.18 L1713.0 1196.23 L1715.0 1196.29 L1717.0 1196.35 L1719.0 1196.40 L1721.0 1196.46 L1723.0 1196.51 L1725.0 1196.57 L1727.0 1196.62 L1729.0 1196.68 L1731.0 1196.73 L1733.0 1196.78 L1735.0 1196.84 L1737.0 1196.89 L1739.0 1196.94 L1741.0 1196.99 L1743.0 1197.05 L1745.0 1197.10 L1747.0 1197.15 L1749.0 1197.20 L1751.0 1197.25 L1753.0 1197.30 L1755.0 1197.35 L1757.0 1197.40 L1759.0 1197.45 L1761.0 1197.50 L1763.0 1197.55 L1765.0 1197.60 L1767.0 1197.64 L1769.0 1197.69 L1771.0 1197.74 L1773.0 1197.79 L1775.0 1197.83 L1777.0 1197.88 L1779.0 1197.93 L1781.0 1197.97 L1783.0 1198.02 L1785.0 1198.06 L1787.0 1198.11 L1789.0 1198.16 L1791.0 1198.20 L1793.0 1198.24 L1795.0 1198.29 L1797.0 1198.33 L1799.0 1198.38 L1801.0 1198.42 L1803.0 1198.46 L1805.0 1198.51 L1807.0 1198.55 L1809.0 1198.59 L1811.0 1198.64 L1813.0 1198.68 L1815.0 1198.72 L1817.0 1198.76 L1819.0 1198.80 L1821.0 1198.84 L1823.0 1198.88 L1825.0 1198.93 L1827.0 1198.97 L1829.0 1199.01 L1831.0 1199.05 L1833.0 1199.09 L1835.0 1199.13 L1837.0 1199.16 L1839.0 1199.20 L1841.0 1199.24 L1843.0 1199.28 L1845.0 1199.32 L1847.0 1199.36 L1849.0 1199.40 L1851.0 1199.43 L1853.0 1199.47 L1855.0 1199.51 L1857.0 1199.55 L1859.0 1199.58 L1861.0 1199.62 L1863.0 1199.66 L1865.0 1199.69 L1867.0 1199.73 L1869.0 1199.77 L1871.0 1199.80 L1873.0 1199.84 L1875.0 1199.87 L1877.0 1199.91 L1879.0 1199.94 L1881.0 1199.98 L1883.0 1200.01 L1885.0 1200.05 L1887.0 1200.08 L1889.0 1200.12 L1891.0 1200.15 L1893.0 1200.18 L1895.0 1200.22 L1897.0 1200.25 L1899.0 1200.28 L1901.0 1200.32 L1903.0 1200.35 L1905.0 1200.38 L1907.0 1200.41 L1909.0 1200.45 L1911.0 1200.48 L1913.0 1200.51 L1915.0 1200.54 L1917.0 1200.57 L1919.0 1200.61 L1921.0 1200.64 L1923.0 1200.67 L1925.0 1200.70 L1927.0 1200.73 L1929.0 1200.76 L1931.0 1200.79 L1933.0 1200.82 L1935.0 1200.85 L1937.0 1200.88 L1939.0 1200.91 L1941.0 1200.94 L1943.0 1200.97 L1945.0 1201.00 L1947.0 1201.03 L1949.0 1201.06 L1951.0 1201.09 L1953.0 1201.12 L1955.0 1201.15 L1957.0 1201.17 L1959.0 1201.20 L1961.0 1201.23 L1963.0 1201.26 L1965.0 1201.29 L1967.0 1201.31 L1969.0 1201.34 L1971.0 1201.37 L1973.0 1201.40 L1975.0 1201.42 L1977.0 1201.45" stroke="#0000ff" stroke-width="3.1"/>
<path d="M347.0 1117.95 L349.0 1117.52 L351.0 1117.09 L353.0 1116.66 L355.0 1116.23 L357.0 1115.79 L359.0 1115.35 L361.0 1114.90 L363.0 1114.46 L365.0 1114.00 L367.0 1113.55 L369.0 1113.09 L371.0 1112.64 L373.0 1112.17 L375.0 1111.71 L377.0 1111.24 L379.0 1110.76 L381.0 1110.29 L383.0 1109.81 L385.0 1109.33 L387.0 1108.84 L389.0 1108.35 L391.0 1107.86 L393.0 1107.37 L395.0 1106.87 L397.0 1106.36 L399.0 1105.86 L401.0 1105.35 L403.0 1104.83 L405.0 1104.32 L407.0 1103.80 L409.0 1103.27 L411.0 1102.74 L413.0 1102.21 L415.0 1101.68 L417.0 1101.14 L419.0 1100.59 L421.0 1100.05 L423.0 1099.49 L425.0 1098.94 L427.0 1098.38 L429.0 1097.82 L431.0 1097.25 L433.0 1096.68 L435.0 1096.10 L437.0 1095.52 L439.0 1094.94 L441.0 1094.35 L443.0 1093.76 L445.0 1093.16 L447.0 1092.56 L449.0 1091.96 L451.0 1091.35 L453.0 1090.73 L455.0 1090.11 L457.0 1089.49 L459.0 1088.86 L461.0 1088.23 L463.0 1087.59 L465.0 1086.95 L467.0 1086.30 L469.0 1085.65 L471.0 1084.99 L473.0 1084.33 L475.0 1083.66 L477.0 1082.99 L479.0 1082.31 L481.0 1081.63 L483.0 1080.94 L485.0 1080.25 L487.0 1079.55 L489.0 1078.85 L491.0 1078.14 L493.0 1077.43 L495.0 1076.71 L497.0 1075.99 L499.0 1075.26 L501.0 1074.52 L503.0 1073.78 L505.0 1073.03 L507.0 1072.28 L509.0 1071.52 L511.0 1070.75 L513.0 1069.98 L515.0 1069.21 L517.0 1068.42 L519.0 1067.63 L521.0 1066.84 L523.0 1066.04 L525.0 1065.23 L527.0 1064.42 L529.0 1063.60 L531.0 1062.77 L533.0 1061.94 L535.0 1061.10 L537.0 1060.25 L539.0 1059.40 L541.0 1058.54 L543.0 1057.67 L545.0 1056.79 L547.0 1055.91 L549.0 1055.03 L551.0 1054.13 L553.0 1053.23 L555.0 1052.32 L557.0 1051.40 L559.0 1050.48 L561.0 1049.54 L563.0 1048.61 L565.0 1047.66 L567.0 1046.70 L569.0 1045.74 L571.0 1044.77 L573.0 1043.79 L575.0 1042.81 L577.0 1041.81 L579.0 1040.81 L581.0 1039.80 L583.0 1038.78 L585.0 1037.75 L587.0 1036.72 L589.0 1035.67 L591.0 1034.62 L593.0 1033.56 L595.0 1032.49 L597.0 1031.41 L599.0 1030.32 L601.0 1029.22 L603.0 1028.11 L605.0 1027.00 L607.0 1025.87 L609.0 1024.74 L611.0 1023.59 L613.0 1022.44 L615.0 1021.27 L617.0 1020.10 L619.0 1018.92 L621.0 1017.72 L623.0 1016.52 L625.0 1015.30 L627.0 1014.08 L629.0 1012.85 L631.0 1011.60 L633.0 1010.34 L635.0 1009.08 L637.0 1007.80 L639.0 1006.51 L641.0 1005.21 L643.0 1003.90 L645.0 1002.58 L647.0 1001.25 L649.0 999.90 L651.0 998.55 L653.0 997.18 L655.0 995.80 L657.0 994.41 L659.0 993.01 L661.0 991.59 L663.0 990.16 L665.0 988.72 L667.0 987.27 L669.0 985.81 L671.0 984.33 L673.0 982.84 L675.0 981.33 L677.0 979.82 L679.0 978.29 L681.0 976.74 L683.0 975.19 L685.0 973.62 L687.0 972.03 L689.0 970.44 L691.0 968.82 L693.0 967.20 L695.0 965.56 L697.0 963.90 L699.0 962.23 L701.0 960.55 L703.0 958.85 L705.0 957.14 L707.0 955.41 L709.0 953.67 L711.0 951.91 L713.0 950.13 L715.0 948.34 L717.0 946.54 L719.0 944.72 L721.0 942.88 L723.0 941.03 L725.0 939.16 L727.0 937.27 L729.0 935.37 L731.0 933.45 L733.0 931.51 L735.0 929.56 L737.0 927.59 L739.0 925.60 L741.0 923.60 L743.0 921.58 L745.0 919.54 L747.0 917.48 L749.0 915.41 L751.0 913.31 L753.0 911.20 L755.0 909.07 L757.0 906.92 L759.0 904.76 L761.0 902.57 L763.0 900.36 L765.0 898.14 L767.0 895.90 L769.0 893.64 L771.0 891.35 L773.0 889.05 L775.0 886.73 L777.0 884.39 L779.0 882.03 L781.0 879.65 L783.0 877.25 L785.0 874.83 L787.0 872.39 L789.0 869.92 L791.0 867.44 L793.0 864.94 L795.0 862.41 L797.0 859.86 L799.0 857.30 L801.0 854.71 L803.0 852.10 L805.0 849.47 L807.0 846.82 L809.0 844.14 L811.0 841.44 L813.0 838.73 L815.0 835.99 L817.0 833.22 L819.0 830.44 L821.0 827.63 L823.0 824.81 L825.0 821.95 L827.0 819.08 L829.0 816.19 L831.0 813.27 L833.0 810.33 L835.0 807.37 L837.0 804.38 L839.0 801.37 L841.0 798.34 L843.0 795.29 L845.0 792.21 L847.0 789.12 L849.0 786.00 L851.0 782.85 L853.0 779.69 L855.0 776.50 L857.0 773.29 L859.0 770.06 L861.0 766.80 L863.0 763.52 L865.0 760.22 L867.0 756.90 L869.0 753.56 L871.0 750.20 L873.0 746.81 L875.0 743.40 L877.0 739.97 L879.0 736.52 L881.0 733.05 L883.0 729.56 L885.0 726.05 L887.0 722.51 L889.0 718.96 L891.0 715.39 L893.0 711.80 L895.0 708.19 L897.0 704.56 L899.0 700.91 L901.0 697.24 L903.0 693.56 L905.0 689.85 L907.0 686.13 L909.0 682.40 L911.0 678.64 L913.0 674.88 L915.0 671.09 L917.0 667.29 L919.0 663.48 L921.0 659.65 L923.0 655.81 L925.0 651.96 L927.0 648.09 L929.0 644.22 L931.0 640.33 L933.0 636.43 L935.0 632.52 L937.0 628.61 L939.0 624.68 L941.0 620.75 L943.0 616.81 L945.0 612.87 L947.0 608.92 L949.0 604.97 L951.0 601.01 L953.0 597.05 L955.0 593.09 L957.0 589.13 L959.0 585.17 L961.0 581.21 L963.0 577.26 L965.0 573.31 L967.0 569.36 L969.0 565.42 L971.0 561.48 L973.0 557.56 L975.0 553.64 L977.0 549.73 L979.0 545.84 L981.0 541.96 L983.0 538.09 L985.0 534.24 L987.0 530.40 L989.0 526.58 L991.0 522.79 L993.0 519.01 L995.0 515.25 L997.0 511.52 L999.0 507.82 L1001.0 504.14 L1003.0 500.49 L1005.0 496.86 L1007.0 493.27 L1009.0 489.71 L1011.0 486.19 L1013.0 482.70 L1015.0 479.25 L1017.0 475.83 L1019.0 472.46 L1021.0 469.13 L1023.0 465.84 L1025.0 462.60 L1027.0 459.40 L1029.0 456.25 L1031.0 453.15 L1033.0 450.10 L1035.0 447.10 L1037.0 444.16 L1039.0 441.27 L1041.0 438.44 L1043.0 435.67 L1045.0 432.96 L1047.0 430.31 L1049.0 427.72 L1051.0 425.20 L1053.0 422.74 L1055.0 420.36 L1057.0 418.04 L1059.0 415.79 L1061.0 413.61 L1063.0 411.50 L1065.0 409.47 L1067.0 407.51 L1069.0 405.63 L1071.0 403.83 L1073.0 402.10 L1075.0 400.45 L1077.0 398.89 L1079.0 397.41 L1081.0 396.00 L1083.0 394.69 L1085.0 393.45 L1087.0 392.30 L1089.0 391.24 L1091.0 390.27 L1093.0 389.38 L1095.0 388.57 L1097.0 387.86 L1099.0 387.24 L1101.0 386.70 L1103.0 386.25 L1105.0 385.90 L1107.0 385.63 L1109.0 385.45 L1111.0 385.36 L1113.0 385.37 L1115.0 385.46 L1117.0 385.64 L1119.0 385.92 L1121.0 386.28 L1123.0 386.73 L1125.0 387.28 L1127.0 387.91 L1129.0 388.63 L1131.0 389.44 L1133.0 390.33 L1135.0 391.31 L1137.0 392.38 L1139.0 393.54 L1141.0 394.78 L1143.0 396.10 L1145.0 397.51 L1147.0 399.00 L1149.0 400.57 L1151.0 402.22 L1153.0 403.95 L1155.0 405.76 L1157.0 407.64 L1159.0 409.61 L1161.0 411.64 L1163.0 413.76 L1165.0 415.94 L1167.0 418.20 L1169.0 420.52 L1171.0 422.91 L1173.0 425.37 L1175.0 427.90 L1177.0 430.49 L1179.0 433.15 L1181.0 435.86 L1183.0 438.64 L1185.0 441.47 L1187.0 444.36 L1189.0 447.31 L1191.0 450.31 L1193.0 453.36 L1195.0 456.47 L1197.0 459.62 L1199.0 462.82 L1201.0 466.07 L1203.0 469.36 L1205.0 472.69 L1207.0 476.07 L1209.0 479.49 L1211.0 482.94 L1213.0 486.43 L1215.0 489.96 L1217.0 493.52 L1219.0 497.12 L1221.0 500.74 L1223.0 504.39 L1225.0 508.07 L1227.0 511.78 L1229.0 515.52 L1231.0 519.27 L1233.0 523.05 L1235.0 526.85 L1237.0 530.67 L1239.0 534.51 L1241.0 538.36 L1243.0 542.23 L1245.0 546.11 L1247.0 550.01 L1249.0 553.91 L1251.0 557.83 L1253.0 561.76 L1255.0 565.69 L1257.0 569.64 L1259.0 573.58 L1261.0 577.54 L1263.0 581.49 L1265.0 585.45 L1267.0 589.41 L1269.0 593.37 L1271.0 597.33 L1273.0 601.29 L1275.0 605.24 L1277.0 609.20 L1279.0 613.15 L1281.0 617.09 L1283.0 621.03 L1285.0 624.96 L1287.0 628.88 L1289.0 632.80 L1291.0 636.70 L1293.0 640.60 L1295.0 644.49 L1297.0 648.36 L1299.0 652.23 L1301.0 656.08 L1303.0 659.92 L1305.0 663.75 L1307.0 667.56 L1309.0 671.36 L1311.0 675.14 L1313.0 678.91 L1315.0 682.66 L1317.0 686.39 L1319.0 690.11 L1321.0 693.81 L1323.0 697.50 L1325.0 701.16 L1327.0 704.81 L1329.0 708.44 L1331.0 712.05 L1333.0 715.64 L1335.0 719.21 L1337.0 722.76 L1339.0 726.29 L1341.0 729.80 L1343.0 733.29 L1345.0 736.76 L1347.0 740.21 L1349.0 743.64 L1351.0 747.05 L1353.0 750.43 L1355.0 753.79 L1357.0 757.14 L1359.0 760.46 L1361.0 763.75 L1363.0 767.03 L1365.0 770.28 L1367.0 773.51 L1369.0 776.72 L1371.0 779.91 L1373.0 783.07 L1375.0 786.21 L1377.0 789.33 L1379.0 792.43 L1381.0 795.50 L1383.0 798.55 L1385.0 801.58 L1387.0 804.59 L1389.0 807.57 L1391.0 810.53 L1393.0 813.47 L1395.0 816.39 L1397.0 819.28 L1399.0 822.15 L1401.0 825.00 L1403.0 827.83 L1405.0 830.64 L1407.0 833.42 L1409.0 836.18 L1411.0 838.92 L1413.0 841.63 L1415.0 844.33 L1417.0 847.00 L1419.0 849.65 L1421.0 852.28 L1423.0 854.89 L1425.0 857.48 L1427.0 860.04 L1429.0 862.59 L1431.0 865.11 L1433.0 867.61 L1435.0 870.10 L1437.0 872.56 L1439.0 875.00 L1441.0 877.42 L1443.0 879.82 L1445.0 882.20 L1447.0 884.56 L1449.0 886.89 L1451.0 889.21 L1453.0 891.51 L1455.0 893.79 L1457.0 896.06 L1459.0 898.30 L1461.0 900.52 L1463.0 902.72 L1465.0 904.91 L1467.0 907.07 L1469.0 909.22 L1471.0 911.35 L1473.0 913.46 L1475.0 915.55 L1477.0 917.63 L1479.0 919.68 L1481.0 921.72 L1483.0 923.74 L1485.0 925.74 L1487.0 927.73 L1489.0 929.70 L1491.0 931.65 L1493.0 933.58 L1495.0 935.50 L1497.0 937.40 L1499.0 939.29 L1501.0 941.16 L1503.0 943.01 L1505.0 944.85 L1507.0 946.67 L1509.0 948.47 L1511.0 950.26 L1513.0 952.03 L1515.0 953.79 L1517.0 955.53 L1519.0 957.26 L1521.0 958.97 L1523.0 960.67 L1525.0 962.35 L1527.0 964.02 L1529.0 965.67 L1531.0 967.31 L1533.0 968.94 L1535.0 970.55 L1537.0 972.14 L1539.0 973.73 L1541.0 975.30 L1543.0 976.85 L1545.0 978.39 L1547.0 979.92 L1549.0 981.44 L1551.0 982.94 L1553.0 984.43 L1555.0 985.91 L1557.0 987.37 L1559.0 988.82 L1561.0 990.26 L1563.0 991.69 L1565.0 993.11 L1567.0 994.51 L1569.0 995.90 L1571.0 997.28 L1573.0 998.64 L1575.0 1000.00 L1577.0 1001.34 L1579.0 1002.67 L1581.0 1004.00 L1583.0 1005.30 L1585.0 1006.60 L1587.0 1007.89 L1589.0 1009.17 L1591.0 1010.43 L1593.0 1011.69 L1595.0 1012.93 L1597.0 1014.17 L1599.0 1015.39 L1601.0 1016.60 L1603.0 1017.81 L1605.0 1019.00 L1607.0 1020.18 L1609.0 1021.35 L1611.0 1022.52 L1613.0 1023.67 L1615.0 1024.82 L1617.0 1025.95 L1619.0 1027.07 L1621.0 1028.19 L1623.0 1029.30 L1625.0 1030.39 L1627.0 1031.48 L1629.0 1032.56 L1631.0 1033.63 L1633.0 1034.69 L1635.0 1035.74 L1637.0 1036.79 L1639.0 1037.82 L1641.0 1038.85 L1643.0 1039.87 L1645.0 1040.88 L1647.0 1041.88 L1649.0 1042.88 L1651.0 1043.86 L1653.0 1044.84 L1655.0 1045.81 L1657.0 1046.77 L1659.0 1047.72 L1661.0 1048.67 L1663.0 1049.61 L1665.0 1050.54 L1667.0 1051.47 L1669.0 1052.38 L1671.0 1053.29 L1673.0 1054.19 L1675.0 1055.09 L1677.0 1055.98 L1679.0 1056.86 L1681.0 1057.73 L1683.0 1058.60 L1685.0 1059.46 L1687.0 1060.31 L1689.0 1061.15 L1691.0 1061.99 L1693.0 1062.83 L1695.0 1063.65 L1697.0 1064.47 L1699.0 1065.29 L1701.0 1066.09 L1703.0 1066.89 L1705.0 1067.69 L1707.0 1068.48 L1709.0 1069.26 L1711.0 1070.04 L1713.0 1070.81 L1715.0 1071.57 L1717.0 1072.33 L1719.0 1073.08 L1721.0 1073.83 L1723.0 1074.57 L1725.0 1075.31 L1727.0 1076.04 L1729.0 1076.76 L1731.0 1077.48 L1733.0 1078.19 L1735.0 1078.90 L1737.0 1079.60 L1739.0 1080.30 L1741.0 1080.99 L1743.0 1081.68 L1745.0 1082.36 L1747.0 1083.04 L1749.0 1083.71 L1751.0 1084.38 L1753.0 1085.04 L1755.0 1085.69 L1757.0 1086.34 L1759.0 1086.99 L1761.0 1087.63 L1763.0 1088.27 L1765.0 1088.90 L1767.0 1089.53 L1769.0 1090.15 L1771.0 1090.77 L1773.0 1091.39 L1775.0 1092.00 L1777.0 1092.60 L1779.0 1093.20 L1781.0 1093.80 L1783.0 1094.39 L1785.0 1094.98 L1787.0 1095.56 L1789.0 1096.14 L1791.0 1096.72 L1793.0 1097.29 L1795.0 1097.86 L1797.0 1098.42 L1799.0 1098.98 L1801.0 1099.53 L1803.0 1100.08 L1805.0 1100.63 L1807.0 1101.17 L1809.0 1101.71 L1811.0 1102.25 L1813.0 1102.78 L1815.0 1103.31 L1817.0 1103.83 L1819.0 1104.35 L1821.0 1104.87 L1823.0 1105.38 L1825.0 1105.89 L1827.0 1106.40 L1829.0 1106.90 L1831.0 1107.40 L1833.0 1107.90 L1835.0 1108.39 L1837.0 1108.88 L1839.0 1109.36 L1841.0 1109.84 L1843.0 1110.32 L1845.0 1110.80 L1847.0 1111.27 L1849.0 1111.74 L1851.0 1112.20 L1853.0 1112.67 L1855.0 1113.13 L1857.0 1113.58 L1859.0 1114.04 L1861.0 1114.49 L1863.0 1114.93 L1865.0 1115.38 L1867.0 1115.82 L1869.0 1116.26 L1871.0 1116.69 L1873.0 1117.12 L1875.0 1117.55 L1877.0 1117.98 L1879.0 1118.40 L1881.0 1118.82 L1883.0 1119.24 L1885.0 1119.66 L1887.0 1120.07 L1889.0 1120.48 L1891.0 1120.89 L1893.0 1121.29 L1895.0 1121.69 L1897.0 1122.09 L1899.0 1122.49 L1901.0 1122.88 L1903.0 1123.27 L1905.0 1123.66 L1907.0 1124.05 L1909.0 1124.43 L1911.0 1124.81 L1913.0 1125.19 L1915.0 1125.57 L1917.0 1125.94 L1919.0 1126.32 L1921.0 1126.68 L1923.0 1127.05 L1925.0 1127.42 L1927.0 1127.78 L1929.0 1128.14 L1931.0 1128.50 L1933.0 1128.85 L1935.0 1129.20 L1937.0 1129.56 L1939.0 1129.90 L1941.0 1130.25 L1943.0 1130.59 L1945.0 1130.94 L1947.0 1131.28 L1949.0 1131.61 L1951.0 1131.95 L1953.0 1132.28 L1955.0 1132.61 L1957.0 1132.94 L1959.0 1133.27 L1961.0 1133.60 L1963.0 1133.92 L1965.0 1134.24 L1967.0 1134.56 L1969.0 1134.88 L1971.0 1135.19 L1973.0 1135.51 L1975.0 1135.82 L1977.0 1136.13" stroke="#00ff00" stroke-width="3.1"/>
<path d="M347.0 1079.02 L349.0 1078.36 L351.0 1077.69 L353.0 1077.02 L355.0 1076.35 L357.0 1075.67 L359.0 1074.98 L361.0 1074.29 L363.0 1073.60 L365.0 1072.90 L367.0 1072.20 L369.0 1071.48 L371.0 1070.77 L373.0 1070.05 L375.0 1069.32 L377.0 1068.59 L379.0 1067.85 L381.0 1067.11 L383.0 1066.36 L385.0 1065.61 L387.0 1064.85 L389.0 1064.08 L391.0 1063.31 L393.0 1062.53 L395.0 1061.75 L397.0 1060.96 L399.0 1060.17 L401.0 1059.36 L403.0 1058.56 L405.0 1057.74 L407.0 1056.92 L409.0 1056.10 L411.0 1055.26 L413.0 1054.42 L415.0 1053.58 L417.0 1052.72 L419.0 1051.87 L421.0 1051.00 L423.0 1050.13 L425.0 1049.25 L427.0 1048.36 L429.0 1047.47 L431.0 1046.57 L433.0 1045.66 L435.0 1044.74 L437.0 1043.82 L439.0 1042.89 L441.0 1041.96 L443.0 1041.01 L445.0 1040.06 L447.0 1039.10 L449.0 1038.13 L451.0 1037.16 L453.0 1036.17 L455.0 1035.18 L457.0 1034.19 L459.0 1033.18 L461.0 1032.16 L463.0 1031.14 L465.0 1030.11 L467.0 1029.07 L469.0 1028.02 L471.0 1026.96 L473.0 1025.90 L475.0 1024.83 L477.0 1023.74 L479.0 1022.65 L481.0 1021.55 L483.0 1020.44 L485.0 1019.32 L487.0 1018.19 L489.0 1017.06 L491.0 1015.91 L493.0 1014.75 L495.0 1013.59 L497.0 1012.41 L499.0 1011.23 L501.0 1010.03 L503.0 1008.83 L505.0 1007.61 L507.0 1006.39 L509.0 1005.16 L511.0 1003.91 L513.0 1002.65 L515.0 1001.39 L517.0 1000.11 L519.0 998.82 L521.0 997.53 L523.0 996.22 L525.0 994.90 L527.0 993.57 L529.0 992.22 L531.0 990.87 L533.0 989.51 L535.0 988.13 L537.0 986.74 L539.0 985.34 L541.0 983.93 L543.0 982.51 L545.0 981.07 L547.0 979.63 L549.0 978.17 L551.0 976.70 L553.0 975.21 L555.0 973.72 L557.0 972.21 L559.0 970.69 L561.0 969.15 L563.0 967.61 L565.0 966.05 L567.0 964.47 L569.0 962.89 L571.0 961.29 L573.0 959.67 L575.0 958.05 L577.0 956.41 L579.0 954.75 L581.0 953.08 L583.0 951.40 L585.0 949.71 L587.0 948.00 L589.0 946.27 L591.0 944.53 L593.0 942.78 L595.0 941.01 L597.0 939.23 L599.0 937.43 L601.0 935.62 L603.0 933.79 L605.0 931.95 L607.0 930.10 L609.0 928.22 L611.0 926.34 L613.0 924.43 L615.0 922.52 L617.0 920.58 L619.0 918.63 L621.0 916.67 L623.0 914.69 L625.0 912.69 L627.0 910.68 L629.0 908.65 L631.0 906.60 L633.0 904.54 L635.0 902.46 L637.0 900.37 L639.0 898.26 L641.0 896.13 L643.0 893.99 L645.0 891.83 L647.0 889.65 L649.0 887.46 L651.0 885.25 L653.0 883.02 L655.0 880.78 L657.0 878.52 L659.0 876.24 L661.0 873.95 L663.0 871.63 L665.0 869.31 L667.0 866.96 L669.0 864.60 L671.0 862.22 L673.0 859.82 L675.0 857.41 L677.0 854.98 L679.0 852.53 L681.0 850.07 L683.0 847.59 L685.0 845.09 L687.0 842.57 L689.0 840.04 L691.0 837.49 L693.0 834.93 L695.0 832.34 L697.0 829.75 L699.0 827.13 L701.0 824.50 L703.0 821.85 L705.0 819.18 L707.0 816.50 L709.0 813.81 L711.0 811.09 L713.0 808.36 L715.0 805.62 L717.0 802.86 L719.0 800.08 L721.0 797.29 L723.0 794.48 L725.0 791.66 L727.0 788.82 L729.0 785.97 L731.0 783.10 L733.0 780.22 L735.0 777.32 L737.0 774.41 L739.0 771.49 L741.0 768.55 L743.0 765.60 L745.0 762.63 L747.0 759.65 L749.0 756.66 L751.0 753.66 L753.0 750.64 L755.0 747.61 L757.0 744.57 L759.0 741.52 L761.0 738.45 L763.0 735.38 L765.0 732.29 L767.0 729.19 L769.0 726.08 L771.0 722.96 L773.0 719.83 L775.0 716.70 L777.0 713.55 L779.0 710.39 L781.0 707.22 L783.0 704.05 L785.0 700.86 L787.0 697.67 L789.0 694.47 L791.0 691.26 L793.0 688.04 L795.0 684.82 L797.0 681.59 L799.0 678.35 L801.0 675.11 L803.0 671.86 L805.0 668.60 L807.0 665.34 L809.0 662.07 L811.0 658.80 L813.0 655.52 L815.0 652.24 L817.0 648.95 L819.0 645.65 L821.0 642.36 L823.0 639.06 L825.0 635.75 L827.0 632.44 L829.0 629.13 L831.0 625.81 L833.0 622.49 L835.0 619.16 L837.0 615.84 L839.0 612.51 L841.0 609.17 L843.0 605.83 L845.0 602.49 L847.0 599.15 L849.0 595.81 L851.0 592.46 L853.0 589.11 L855.0 585.75 L857.0 582.40 L859.0 579.04 L861.0 575.68 L863.0 572.32 L865.0 568.95 L867.0 565.58 L869.0 562.21 L871.0 558.84 L873.0 555.46 L875.0 552.08 L877.0 548.70 L879.0 545.31 L881.0 541.93 L883.0 538.54 L885.0 535.15 L887.0 531.75 L889.0 528.35 L891.0 524.95 L893.0 521.55 L895.0 518.14 L897.0 514.73 L899.0 511.32 L901.0 507.91 L903.0 504.49 L905.0 501.07 L907.0 497.64 L909.0 494.22 L911.0 490.79 L913.0 487.36 L915.0 483.92 L917.0 480.48 L919.0 477.05 L921.0 473.60 L923.0 470.16 L925.0 466.71 L927.0 463.26 L929.0 459.81 L931.0 456.36 L933.0 452.91 L935.0 449.46 L937.0 446.00 L939.0 442.55 L941.0 439.09 L943.0 435.64 L945.0 432.18 L947.0 428.73 L949.0 425.27 L951.0 421.82 L953.0 418.37 L955.0 414.93 L957.0 411.49 L959.0 408.05 L961.0 404.61 L963.0 401.18 L965.0 397.76 L967.0 394.34 L969.0 390.93 L971.0 387.52 L973.0 384.12 L975.0 380.74 L977.0 377.36 L979.0 373.99 L981.0 370.64 L983.0 367.30 L985.0 363.97 L987.0 360.65 L989.0 357.35 L991.0 354.07 L993.0 350.80 L995.0 347.56 L997.0 344.33 L999.0 341.12 L1001.0 337.93 L1003.0 334.77 L1005.0 331.63 L1007.0 328.51 L1009.0 325.43 L1011.0 322.36 L1013.0 319.33 L1015.0 316.33 L1017.0 313.36 L1019.0 310.42 L1021.0 307.51 L1023.0 304.64 L1025.0 301.81 L1027.0 299.01 L1029.0 296.25 L1031.0 293.53 L1033.0 290.85 L1035.0 288.22 L1037.0 285.63 L1039.0 283.08 L1041.0 280.58 L1043.0 278.13 L1045.0 275.73 L1047.0 273.38 L1049.0 271.08 L1051.0 268.83 L1053.0 266.64 L1055.0 264.50 L1057.0 262.41 L1059.0 260.39 L1061.0 258.42 L1063.0 256.51 L1065.0 254.67 L1067.0 252.88 L1069.0 251.16 L1071.0 249.50 L1073.0 247.90 L1075.0 246.37 L1077.0 244.91 L1079.0 243.51 L1081.0 242.18 L1083.0 240.92 L1085.0 239.73 L1087.0 238.61 L1089.0 237.55 L1091.0 236.57 L1093.0 235.66 L1095.0 234.82 L1097.0 234.05 L1099.0 233.35 L1101.0 232.73 L1103.0 232.18 L1105.0 231.70 L1107.0 231.29 L1109.0 230.95 L1111.0 230.69 L1113.0 230.50 L1115.0 230.38 L1117.0 230.33 L1119.0 230.35 L1121.0 230.44 L1123.0 230.61 L1125.0 230.84 L1127.0 231.14 L1129.0 231.51 L1131.0 231.95 L1133.0 232.46 L1135.0 233.03 L1137.0 233.67 L1139.0 234.38 L1141.0 235.14 L1143.0 235.97 L1145.0 236.87 L1147.0 237.82 L1149.0 238.83 L1151.0 239.90 L1153.0 241.03 L1155.0 242.21 L1157.0 243.44 L1159.0 244.73 L1161.0 246.07 L1163.0 247.47 L1165.0 248.91 L1167.0 250.39 L1169.0 251.93 L1171.0 253.50 L1173.0 255.12 L1175.0 256.78 L1177.0 258.48 L1179.0 260.22 L1181.0 261.99 L1183.0 263.80 L1185.0 265.64 L1187.0 267.51 L1189.0 269.41 L1191.0 271.34 L1193.0 273.29 L1195.0 275.27 L1197.0 277.28 L1199.0 279.30 L1201.0 281.34 L1203.0 283.40 L1205.0 285.48 L1207.0 287.57 L1209.0 289.67 L1211.0 291.79 L1213.0 293.91 L1215.0 296.05 L1217.0 298.19 L1219.0 300.34 L1221.0 302.49 L1223.0 304.64 L1225.0 306.80 L1227.0 308.96 L1229.0 311.12 L1231.0 313.27 L1233.0 315.43 L1235.0 317.58 L1237.0 319.72 L1239.0 321.86 L1241.0 323.99 L1243.0 326.12 L1245.0 328.24 L1247.0 330.35 L1249.0 332.45 L1251.0 334.55 L1253.0 336.63 L1255.0 338.71 L1257.0 340.78 L1259.0 342.83 L1261.0 344.88 L1263.0 346.92 L1265.0 348.95 L1267.0 350.97 L1269.0 352.98 L1271.0 354.98 L1273.0 356.98 L1275.0 358.97 L1277.0 360.96 L1279.0 362.94 L1281.0 364.92 L1283.0 366.89 L1285.0 368.87 L1287.0 370.84 L1289.0 372.82 L1291.0 374.80 L1293.0 376.79 L1295.0 378.78 L1297.0 380.78 L1299.0 382.80 L1301.0 384.82 L1303.0 386.86 L1305.0 388.92 L1307.0 391.00 L1309.0 393.10 L1311.0 395.22 L1313.0 397.37 L1315.0 399.54 L1317.0 401.75 L1319.0 403.99 L1321.0 406.27 L1323.0 408.58 L1325.0 410.93 L1327.0 413.33 L1329.0 415.77 L1331.0 418.26 L1333.0 420.80 L1335.0 423.39 L1337.0 426.03 L1339.0 428.72 L1341.0 431.48 L1343.0 434.29 L1345.0 437.16 L1347.0 440.10 L1349.0 443.09 L1351.0 446.15 L1353.0 449.28 L1355.0 452.47 L1357.0 455.73 L1359.0 459.06 L1361.0 462.45 L1363.0 465.91 L1365.0 469.44 L1367.0 473.03 L1369.0 476.69 L1371.0 480.42 L1373.0 484.22 L1375.0 488.08 L1377.0 492.00 L1379.0 495.98 L1381.0 500.03 L1383.0 504.14 L1385.0 508.30 L1387.0 512.52 L1389.0 516.79 L1391.0 521.12 L1393.0 525.50 L1395.0 529.92 L1397.0 534.39 L1399.0 538.90 L1401.0 543.46 L1403.0 548.05 L1405.0 552.67 L1407.0 557.33 L1409.0 562.02 L1411.0 566.74 L1413.0 571.48 L1415.0 576.24 L1417.0 581.03 L1419.0 585.83 L1421.0 590.64 L1423.0 595.47 L1425.0 600.30 L1427.0 605.14 L1429.0 609.98 L1431.0 614.83 L1433.0 619.67 L1435.0 624.51 L1437.0 629.35 L1439.0 634.18 L1441.0 639.00 L1443.0 643.80 L1445.0 648.59 L1447.0 653.37 L1449.0 658.13 L1451.0 662.87 L1453.0 667.59 L1455.0 672.28 L1457.0 676.95 L1459.0 681.60 L1461.0 686.22 L1463.0 690.81 L1465.0 695.38 L1467.0 699.91 L1469.0 704.41 L1471.0 708.88 L1473.0 713.32 L1475.0 717.72 L1477.0 722.09 L1479.0 726.42 L1481.0 730.72 L1483.0 734.98 L1485.0 739.20 L1487.0 743.39 L1489.0 747.54 L1491.0 751.65 L1493.0 755.72 L1495.0 759.75 L1497.0 763.75 L1499.0 767.70 L1501.0 771.62 L1503.0 775.49 L1505.0 779.33 L1507.0 783.13 L1509.0 786.89 L1511.0 790.61 L1513.0 794.29 L1515.0 797.93 L1517.0 801.53 L1519.0 805.09 L1521.0 808.62 L1523.0 812.10 L1525.0 815.55 L1527.0 818.96 L1529.0 822.33 L1531.0 825.67 L1533.0 828.96 L1535.0 832.22 L1537.0 835.44 L1539.0 838.63 L1541.0 841.78 L1543.0 844.90 L1545.0 847.98 L1547.0 851.02 L1549.0 854.03 L1551.0 857.00 L1553.0 859.95 L1555.0 862.85 L1557.0 865.73 L1559.0 868.57 L1561.0 871.38 L1563.0 874.15 L1565.0 876.90 L1567.0 879.61 L1569.0 882.29 L1571.0 884.94 L1573.0 887.56 L1575.0 890.15 L1577.0 892.71 L1579.0 895.24 L1581.0 897.75 L1583.0 900.22 L1585.0 902.67 L1587.0 905.08 L1589.0 907.47 L1591.0 909.84 L1593.0 912.17 L1595.0 914.48 L1597.0 916.77 L1599.0 919.03 L1601.0 921.26 L1603.0 923.47 L1605.0 925.65 L1607.0 927.81 L1609.0 929.94 L1611.0 932.05 L1613.0 934.14 L1615.0 936.21 L1617.0 938.25 L1619.0 940.27 L1621.0 942.26 L1623.0 944.24 L1625.0 946.19 L1627.0 948.12 L1629.0 950.03 L1631.0 951.92 L1633.0 953.79 L1635.0 955.64 L1637.0 957.47 L1639.0 959.28 L1641.0 961.07 L1643.0 962.85 L1645.0 964.60 L1647.0 966.33 L1649.0 968.05 L1651.0 969.75 L1653.0 971.43 L1655.0 973.09 L1657.0 974.73 L1659.0 976.36 L1661.0 977.97 L1663.0 979.57 L1665.0 981.15 L1667.0 982.71 L1669.0 984.25 L1671.0 985.78 L1673.0 987.30 L1675.0 988.80 L1677.0 990.28 L1679.0 991.75 L1681.0 993.20 L1683.0 994.64 L1685.0 996.07 L1687.0 997.48 L1689.0 998.87 L1691.0 1000.26 L1693.0 1001.63 L1695.0 1002.98 L1697.0 1004.32 L1699.0 1005.65 L1701.0 1006.97 L1703.0 1008.27 L1705.0 1009.57 L1707.0 1010.84 L1709.0 1012.11 L1711.0 1013.36 L1713.0 1014.61 L1715.0 1015.84 L1717.0 1017.05 L1719.0 1018.26 L1721.0 1019.46 L1723.0 1020.64 L1725.0 1021.81 L1727.0 1022.98 L1729.0 1024.13 L1731.0 1025.27 L1733.0 1026.40 L1735.0 1027.52 L1737.0 1028.63 L1739.0 1029.73 L1741.0 1030.82 L1743.0 1031.90 L1745.0 1032.97 L1747.0 1034.02 L1749.0 1035.07 L1751.0 1036.12 L1753.0 1037.15 L1755.0 1038.17 L1757.0 1039.18 L1759.0 1040.19 L1761.0 1041.18 L1763.0 1042.17 L1765.0 1043.14 L1767.0 1044.11 L1769.0 1045.07 L1771.0 1046.02 L1773.0 1046.97 L1775.0 1047.90 L1777.0 1048.83 L1779.0 1049.75 L1781.0 1050.66 L1783.0 1051.57 L1785.0 1052.46 L1787.0 1053.35 L1789.0 1054.23 L1791.0 1055.10 L1793.0 1055.97 L1795.0 1056.83 L1797.0 1057.68 L1799.0 1058.52 L1801.0 1059.36 L1803.0 1060.19 L1805.0 1061.01 L1807.0 1061.83 L1809.0 1062.64 L1811.0 1063.44 L1813.0 1064.24 L1815.0 1065.03 L1817.0 1065.81 L1819.0 1066.59 L1821.0 1067.36 L1823.0 1068.12 L1825.0 1068.88 L1827.0 1069.63 L1829.0 1070.38 L1831.0 1071.12 L1833.0 1071.85 L1835.0 1072.58 L1837.0 1073.30 L1839.0 1074.02 L1841.0 1074.73 L1843.0 1075.44 L1845.0 1076.14 L1847.0 1076.83 L1849.0 1077.52 L1851.0 1078.20 L1853.0 1078.88 L1855.0 1079.55 L1857.0 1080.22 L1859.0 1080.88 L1861.0 1081.54 L1863.0 1082.19 L1865.0 1082.84 L1867.0 1083.48 L1869.0 1084.12 L1871.0 1084.75 L1873.0 1085.38 L1875.0 1086.00 L1877.0 1086.62 L1879.0 1087.24 L1881.0 1087.85 L1883.0 1088.45 L1885.0 1089.05 L1887.0 1089.65 L1889.0 1090.24 L1891.0 1090.83 L1893.0 1091.41 L1895.0 1091.99 L1897.0 1092.56 L1899.0 1093.13 L1901.0 1093.70 L1903.0 1094.26 L1905.0 1094.81 L1907.0 1095.37 L1909.0 1095.92 L1911.0 1096.46 L1913.0 1097.00 L1915.0 1097.54 L1917.0 1098.08 L1919.0 1098.61 L1921.0 1099.13 L1923.0 1099.65 L1925.0 1100.17 L1927.0 1100.69 L1929.0 1101.20 L1931.0 1101.71 L1933.0 1102.21 L1935.0 1102.71 L1937.0 1103.21 L1939.0 1103.70 L1941.0 1104.19 L1943.0 1104.68 L1945.0 1105.16 L1947.0 1105.64 L1949.0 1106.12 L1951.0 1106.59 L1953.0 1107.06 L1955.0 1107.53 L1957.0 1107.99 L1959.0 1108.45 L1961.0 1108.91 L1963.0 1109.37 L1965.0 1109.82 L1967.0 1110.27 L1969.0 1110.71 L1971.0 1111.15 L1973.0 1111.59 L1975.0 1112.03 L1977.0 1112.46" stroke="#00ffff" stroke-width="4.2" stroke-dasharray="18.05 12.02" stroke-dashoffset="9"/>
<path d="M347.0 1095.74 L348.5 1094.76 L350.0 1093.77 L351.5 1092.78 L353.0 1091.79 L354.5 1090.80 L356.0 1089.81 L357.5 1088.83 L359.0 1087.85 L360.5 1086.88 L362.0 1085.92 L363.5 1084.96 L365.0 1084.02 L366.5 1083.09 L368.0 1082.17 L369.5 1081.26 L371.0 1080.38 L372.5 1079.51 L374.0 1078.65 L375.5 1077.82 L377.0 1077.01 L378.5 1076.22 L380.0 1075.45 L381.5 1074.71 L383.0 1074.00 L384.5 1073.31 L386.0 1072.64 L387.5 1072.00 L389.0 1071.37 L390.5 1070.78 L392.0 1070.20 L393.5 1069.65 L395.0 1069.12 L396.5 1068.60 L398.0 1068.11 L399.5 1067.64 L401.0 1067.19 L402.5 1066.76 L404.0 1066.35 L405.5 1065.96 L407.0 1065.58 L408.5 1065.23 L410.0 1064.89 L411.5 1064.57 L413.0 1064.26 L414.5 1063.97 L416.0 1063.70 L417.5 1063.44 L419.0 1063.19 L420.5 1062.96 L422.0 1062.75 L423.5 1062.54 L425.0 1062.34 L426.5 1062.16 L428.0 1061.98 L429.5 1061.81 L431.0 1061.65 L432.5 1061.50 L434.0 1061.35 L435.5 1061.21 L437.0 1061.07 L438.5 1060.93 L440.0 1060.80 L441.5 1060.69 L443.0 1060.61 L444.5 1060.58 L446.0 1060.61 L447.5 1060.72 L449.0 1060.92 L450.5 1061.23 L452.0 1061.65 L453.5 1062.21 L455.0 1062.89 L456.5 1063.67 L458.0 1064.53 L459.5 1065.46 L461.0 1066.43 L462.5 1067.42 L464.0 1068.42 L465.5 1069.39 L467.0 1070.34 L468.5 1071.23 L470.0 1072.04 L471.5 1072.76 L473.0 1073.37 L474.5 1073.87 L476.0 1074.26 L477.5 1074.54 L479.0 1074.71 L480.5 1074.77 L482.0 1074.72 L483.5 1074.56 L485.0 1074.28 L486.5 1073.90 L488.0 1073.39 L489.5 1072.78 L491.0 1072.05 L492.5 1071.20 L494.0 1070.24 L495.5 1069.17 L497.0 1067.98 L498.5 1066.66 L500.0 1065.21 L501.5 1063.61 L503.0 1061.83 L504.5 1059.87 L506.0 1057.71 L507.5 1055.34 L509.0 1052.80 L510.5 1050.11 L512.0 1047.33 L513.5 1044.47 L515.0 1041.58 L516.5 1038.68 L518.0 1035.79 L519.5 1032.93 L521.0 1030.11 L522.5 1027.34 L524.0 1024.65 L525.5 1022.02 L527.0 1019.44 L528.5 1016.90 L530.0 1014.37 L531.5 1011.84 L533.0 1009.30 L534.5 1006.73 L536.0 1004.12 L537.5 1001.45 L539.0 998.70 L540.5 995.85 L542.0 992.90 L543.5 989.83 L545.0 986.62 L546.5 983.25 L548.0 979.71 L549.5 976.02 L551.0 972.19 L552.5 968.26 L554.0 964.26 L555.5 960.21 L557.0 956.14 L558.5 952.08 L560.0 948.03 L561.5 944.01 L563.0 940.02 L564.5 936.07 L566.0 932.17 L567.5 928.32 L569.0 924.54 L570.5 920.82 L572.0 917.18 L573.5 913.62 L575.0 910.16 L576.5 906.79 L578.0 903.53 L579.5 900.38 L581.0 897.36 L582.5 894.46 L584.0 891.70 L585.5 889.08 L587.0 886.60 L588.5 884.27 L590.0 882.07 L591.5 879.99 L593.0 878.03 L594.5 876.16 L596.0 874.38 L597.5 872.69 L599.0 871.06 L600.5 869.50 L602.0 867.98 L603.5 866.51 L605.0 865.06 L606.5 863.63 L608.0 862.22 L609.5 860.80 L611.0 859.39 L612.5 858.00 L614.0 856.64 L615.5 855.33 L617.0 854.07 L618.5 852.89 L620.0 851.78 L621.5 850.77 L623.0 849.88 L624.5 849.10 L626.0 848.45 L627.5 847.95 L629.0 847.57 L630.5 847.31 L632.0 847.15 L633.5 847.10 L635.0 847.12 L636.5 847.22 L638.0 847.38 L639.5 847.60 L641.0 847.86 L642.5 848.14 L644.0 848.45 L645.5 848.76 L647.0 849.07 L648.5 849.37 L650.0 849.65 L651.5 849.89 L653.0 850.08 L654.5 850.22 L656.0 850.29 L657.5 850.28 L659.0 850.18 L660.5 850.00 L662.0 849.73 L663.5 849.41 L665.0 849.04 L666.5 848.63 L668.0 848.21 L669.5 847.77 L671.0 847.34 L672.5 846.93 L674.0 846.55 L675.5 846.22 L677.0 845.95 L678.5 845.75 L680.0 845.64 L681.5 845.62 L683.0 845.67 L684.5 845.75 L686.0 845.85 L687.5 845.92 L689.0 845.96 L690.5 845.91 L692.0 845.77 L693.5 845.49 L695.0 845.06 L696.5 844.44 L698.0 843.61 L699.5 842.59 L701.0 841.38 L702.5 839.99 L704.0 838.43 L705.5 836.72 L707.0 834.86 L708.5 832.86 L710.0 830.74 L711.5 828.49 L713.0 826.14 L714.5 823.70 L716.0 821.16 L717.5 818.54 L719.0 815.86 L720.5 813.13 L722.0 810.38 L723.5 807.66 L725.0 804.98 L726.5 802.40 L728.0 799.94 L729.5 797.62 L731.0 795.44 L732.5 793.37 L734.0 791.41 L735.5 789.55 L737.0 787.77 L738.5 786.06 L740.0 784.42 L741.5 782.82 L743.0 781.25 L744.5 779.71 L746.0 778.18 L747.5 776.65 L749.0 775.11 L750.5 773.54 L752.0 771.93 L753.5 770.29 L755.0 768.59 L756.5 766.86 L758.0 765.08 L759.5 763.26 L761.0 761.39 L762.5 759.49 L764.0 757.53 L765.5 755.54 L767.0 753.50 L768.5 751.42 L770.0 749.30 L771.5 747.13 L773.0 744.92 L774.5 742.66 L776.0 740.37 L777.5 738.03 L779.0 735.64 L780.5 733.22 L782.0 730.75 L783.5 728.24 L785.0 725.68 L786.5 723.08 L788.0 720.44 L789.5 717.76 L791.0 715.03 L792.5 712.26 L794.0 709.45 L795.5 706.59 L797.0 703.69 L798.5 700.75 L800.0 697.76 L801.5 694.74 L803.0 691.67 L804.5 688.55 L806.0 685.40 L807.5 682.20 L809.0 678.96 L810.5 675.68 L812.0 672.35 L813.5 668.98 L815.0 665.56 L816.5 662.09 L818.0 658.58 L819.5 655.01 L821.0 651.39 L822.5 647.73 L824.0 644.00 L825.5 640.22 L827.0 636.39 L828.5 632.51 L830.0 628.60 L831.5 624.70 L833.0 620.82 L834.5 616.98 L836.0 613.21 L837.5 609.54 L839.0 605.98 L840.5 602.55 L842.0 599.25 L843.5 596.04 L845.0 592.90 L846.5 589.82 L848.0 586.75 L849.5 583.69 L851.0 580.61 L852.5 577.48 L854.0 574.29 L855.5 571.06 L857.0 567.77 L858.5 564.46 L860.0 561.13 L861.5 557.79 L863.0 554.46 L864.5 551.15 L866.0 547.86 L867.5 544.62 L869.0 541.44 L870.5 538.32 L872.0 535.29 L873.5 532.34 L875.0 529.47 L876.5 526.69 L878.0 523.99 L879.5 521.37 L881.0 518.82 L882.5 516.35 L884.0 513.94 L885.5 511.61 L887.0 509.33 L888.5 507.12 L890.0 504.98 L891.5 502.88 L893.0 500.85 L894.5 498.86 L896.0 496.93 L897.5 495.04 L899.0 493.20 L900.5 491.39 L902.0 489.63 L903.5 487.91 L905.0 486.22 L906.5 484.56 L908.0 482.93 L909.5 481.33 L911.0 479.75 L912.5 478.18 L914.0 476.63 L915.5 475.09 L917.0 473.56 L918.5 472.03 L920.0 470.49 L921.5 468.95 L923.0 467.40 L924.5 465.84 L926.0 464.26 L927.5 462.66 L929.0 461.03 L930.5 459.37 L932.0 457.68 L933.5 455.95 L935.0 454.18 L936.5 452.36 L938.0 450.49 L939.5 448.58 L941.0 446.60 L942.5 444.56 L944.0 442.46 L945.5 440.29 L947.0 438.04 L948.5 435.72 L950.0 433.32 L951.5 430.83 L953.0 428.26 L954.5 425.59 L956.0 422.84 L957.5 420.02 L959.0 417.14 L960.5 414.19 L962.0 411.20 L963.5 408.17 L965.0 405.11 L966.5 402.02 L968.0 398.92 L969.5 395.81 L971.0 392.70 L972.5 389.60 L974.0 386.52 L975.5 383.47 L977.0 380.45 L978.5 377.48 L980.0 374.55 L981.5 371.66 L983.0 368.83 L984.5 366.04 L986.0 363.30 L987.5 360.61 L989.0 357.97 L990.5 355.39 L992.0 352.86 L993.5 350.39 L995.0 347.96 L996.5 345.59 L998.0 343.26 L999.5 340.96 L1001.0 338.69 L1002.5 336.43 L1004.0 334.19 L1005.5 331.95 L1007.0 329.70 L1008.5 327.45 L1010.0 325.17 L1011.5 322.87 L1013.0 320.53 L1014.5 318.15 L1016.0 315.72 L1017.5 313.24 L1019.0 310.72 L1020.5 308.17 L1022.0 305.61 L1023.5 303.03 L1025.0 300.45 L1026.5 297.89 L1028.0 295.34 L1029.5 292.82 L1031.0 290.34 L1032.5 287.93 L1034.0 285.60 L1035.5 283.39 L1037.0 281.30 L1038.5 279.32 L1040.0 277.46 L1041.5 275.68 L1043.0 274.00 L1044.5 272.39 L1046.0 270.85 L1047.5 269.37 L1049.0 267.92 L1050.5 266.47 L1052.0 265.00 L1053.5 263.49 L1055.0 261.92 L1056.5 260.27 L1058.0 258.56 L1059.5 256.80 L1061.0 255.03 L1062.5 253.26 L1064.0 251.52 L1065.5 249.81 L1067.0 248.18 L1068.5 246.63 L1070.0 245.19 L1071.5 243.84 L1073.0 242.60 L1074.5 241.46 L1076.0 240.40 L1077.5 239.44 L1079.0 238.56 L1080.5 237.76 L1082.0 237.04 L1083.5 236.40 L1085.0 235.82 L1086.5 235.31 L1088.0 234.87 L1089.5 234.48 L1091.0 234.15 L1092.5 233.87 L1094.0 233.64 L1095.5 233.45 L1097.0 233.31 L1098.5 233.20 L1100.0 233.13 L1101.5 233.08 L1103.0 233.07 L1104.5 233.07 L1106.0 233.10 L1107.5 233.14 L1109.0 233.19 L1110.5 233.25 L1112.0 233.32 L1113.5 233.40 L1115.0 233.49 L1116.5 233.59 L1118.0 233.71 L1119.5 233.84 L1121.0 233.99 L1122.5 234.15 L1124.0 234.34 L1125.5 234.55 L1127.0 234.77 L1128.5 235.03 L1130.0 235.30 L1131.5 235.60 L1133.0 235.93 L1134.5 236.29 L1136.0 236.67 L1137.5 237.09 L1139.0 237.54 L1140.5 238.02 L1142.0 238.54 L1143.5 239.10 L1145.0 239.69 L1146.5 240.32 L1148.0 240.98 L1149.5 241.68 L1151.0 242.41 L1152.5 243.17 L1154.0 243.96 L1155.5 244.79 L1157.0 245.64 L1158.5 246.52 L1160.0 247.42 L1161.5 248.35 L1163.0 249.30 L1164.5 250.28 L1166.0 251.28 L1167.5 252.30 L1169.0 253.34 L1170.5 254.39 L1172.0 255.47 L1173.5 256.55 L1175.0 257.66 L1176.5 258.78 L1178.0 259.91 L1179.5 261.05 L1181.0 262.20 L1182.5 263.36 L1184.0 264.53 L1185.5 265.71 L1187.0 266.89 L1188.5 268.07 L1190.0 269.26 L1191.5 270.45 L1193.0 271.64 L1194.5 272.84 L1196.0 274.03 L1197.5 275.22 L1199.0 276.40 L1200.5 277.59 L1202.0 278.78 L1203.5 279.97 L1205.0 281.18 L1206.5 282.40 L1208.0 283.64 L1209.5 284.90 L1211.0 286.18 L1212.5 287.49 L1214.0 288.84 L1215.5 290.22 L1217.0 291.63 L1218.5 293.09 L1220.0 294.60 L1221.5 296.15 L1223.0 297.76 L1224.5 299.42 L1226.0 301.13 L1227.5 302.90 L1229.0 304.73 L1230.5 306.60 L1232.0 308.53 L1233.5 310.51 L1235.0 312.54 L1236.5 314.62 L1238.0 316.76 L1239.5 318.94 L1241.0 321.17 L1242.5 323.46 L1244.0 325.79 L1245.5 328.17 L1247.0 330.59 L1248.5 333.02 L1250.0 335.42 L1251.5 337.76 L1253.0 340.01 L1254.5 342.13 L1256.0 344.09 L1257.5 345.85 L1259.0 347.39 L1260.5 348.69 L1262.0 349.80 L1263.5 350.78 L1265.0 351.68 L1266.5 352.55 L1268.0 353.44 L1269.5 354.39 L1271.0 355.42 L1272.5 356.51 L1274.0 357.66 L1275.5 358.86 L1277.0 360.10 L1278.5 361.38 L1280.0 362.68 L1281.5 364.02 L1283.0 365.37 L1284.5 366.73 L1286.0 368.10 L1287.5 369.48 L1289.0 370.86 L1290.5 372.25 L1292.0 373.65 L1293.5 375.06 L1295.0 376.48 L1296.5 377.91 L1298.0 379.36 L1299.5 380.81 L1301.0 382.28 L1302.5 383.76 L1304.0 385.26 L1305.5 386.77 L1307.0 388.30 L1308.5 389.84 L1310.0 391.40 L1311.5 392.98 L1313.0 394.58 L1314.5 396.20 L1316.0 397.84 L1317.5 399.50 L1319.0 401.18 L1320.5 402.88 L1322.0 404.61 L1323.5 406.36 L1325.0 408.14 L1326.5 409.94 L1328.0 411.76 L1329.5 413.62 L1331.0 415.50 L1332.5 417.41 L1334.0 419.34 L1335.5 421.31 L1337.0 423.31 L1338.5 425.34 L1340.0 427.40 L1341.5 429.49 L1343.0 431.62 L1344.5 433.78 L1346.0 435.98 L1347.5 438.21 L1349.0 440.47 L1350.5 442.78 L1352.0 445.12 L1353.5 447.50 L1355.0 449.91 L1356.5 452.37 L1358.0 454.87 L1359.5 457.41 L1361.0 459.99 L1362.5 462.62 L1364.0 465.28 L1365.5 467.99 L1367.0 470.75 L1368.5 473.55 L1370.0 476.40 L1371.5 479.30 L1373.0 482.24 L1374.5 485.23 L1376.0 488.27 L1377.5 491.36 L1379.0 494.51 L1380.5 497.70 L1382.0 500.95 L1383.5 504.26 L1385.0 507.62 L1386.5 511.03 L1388.0 514.50 L1389.5 518.03 L1391.0 521.62 L1392.5 525.26 L1394.0 528.97 L1395.5 532.74 L1397.0 536.57 L1398.5 540.45 L1400.0 544.39 L1401.5 548.35 L1403.0 552.32 L1404.5 556.28 L1406.0 560.22 L1407.5 564.12 L1409.0 567.96 L1410.5 571.73 L1412.0 575.40 L1413.5 578.97 L1415.0 582.43 L1416.5 585.80 L1418.0 589.08 L1419.5 592.29 L1421.0 595.44 L1422.5 598.54 L1424.0 601.61 L1425.5 604.65 L1427.0 607.67 L1428.5 610.68 L1430.0 613.71 L1431.5 616.75 L1433.0 619.82 L1434.5 622.93 L1436.0 626.10 L1437.5 629.33 L1439.0 632.63 L1440.5 636.01 L1442.0 639.50 L1443.5 643.08 L1445.0 646.76 L1446.5 650.52 L1448.0 654.34 L1449.5 658.22 L1451.0 662.14 L1452.5 666.09 L1454.0 670.05 L1455.5 674.02 L1457.0 677.98 L1458.5 681.92 L1460.0 685.83 L1461.5 689.69 L1463.0 693.49 L1464.5 697.21 L1466.0 700.86 L1467.5 704.40 L1469.0 707.85 L1470.5 711.19 L1472.0 714.45 L1473.5 717.61 L1475.0 720.70 L1476.5 723.70 L1478.0 726.64 L1479.5 729.51 L1481.0 732.33 L1482.5 735.08 L1484.0 737.79 L1485.5 740.46 L1487.0 743.09 L1488.5 745.68 L1490.0 748.25 L1491.5 750.80 L1493.0 753.33 L1494.5 755.85 L1496.0 758.36 L1497.5 760.88 L1499.0 763.40 L1500.5 765.94 L1502.0 768.49 L1503.5 771.06 L1505.0 773.66 L1506.5 776.29 L1508.0 778.96 L1509.5 781.65 L1511.0 784.37 L1512.5 787.12 L1514.0 789.88 L1515.5 792.66 L1517.0 795.45 L1518.5 798.25 L1520.0 801.06 L1521.5 803.87 L1523.0 806.68 L1524.5 809.48 L1526.0 812.28 L1527.5 815.08 L1529.0 817.85 L1530.5 820.61 L1532.0 823.36 L1533.5 826.08 L1535.0 828.77 L1536.5 831.43 L1538.0 834.06 L1539.5 836.66 L1541.0 839.22 L1542.5 841.74 L1544.0 844.24 L1545.5 846.69 L1547.0 849.12 L1548.5 851.51 L1550.0 853.87 L1551.5 856.20 L1553.0 858.50 L1554.5 860.76 L1556.0 863.00 L1557.5 865.21 L1559.0 867.39 L1560.5 869.54 L1562.0 871.66 L1563.5 873.76 L1565.0 875.83 L1566.5 877.89 L1568.0 879.95 L1569.5 882.01 L1571.0 884.08 L1572.5 886.17 L1574.0 888.29 L1575.5 890.45 L1577.0 892.64 L1578.5 894.87 L1580.0 897.13 L1581.5 899.41 L1583.0 901.71 L1584.5 904.03 L1586.0 906.36 L1587.5 908.70 L1589.0 911.05 L1590.5 913.39 L1592.0 915.73 L1593.5 918.06 L1595.0 920.38 L1596.5 922.68 L1598.0 924.96 L1599.5 927.22 L1601.0 929.45 L1602.5 931.64 L1604.0 933.80 L1605.5 935.91 L1607.0 937.98 L1608.5 940.00 L1610.0 941.98 L1611.5 943.91 L1613.0 945.80 L1614.5 947.65 L1616.0 949.45 L1617.5 951.21 L1619.0 952.93 L1620.5 954.61 L1622.0 956.25 L1623.5 957.86 L1625.0 959.42 L1626.5 960.95 L1628.0 962.44 L1629.5 963.90 L1631.0 965.32 L1632.5 966.71 L1634.0 968.06 L1635.5 969.38 L1637.0 970.67 L1638.5 971.93 L1640.0 973.16 L1641.5 974.36 L1643.0 975.53 L1644.5 976.68 L1646.0 977.79 L1647.5 978.88 L1649.0 979.95 L1650.5 980.99 L1652.0 982.00 L1653.5 982.99 L1655.0 983.96 L1656.5 984.91 L1658.0 985.84 L1659.5 986.75 L1661.0 987.63 L1662.5 988.50 L1664.0 989.35 L1665.5 990.18 L1667.0 991.00 L1668.5 991.80 L1670.0 992.59 L1671.5 993.36 L1673.0 994.12 L1674.5 994.86 L1676.0 995.60 L1677.5 996.32 L1679.0 997.03 L1680.5 997.74 L1682.0 998.43 L1683.5 999.12 L1685.0 999.80 L1686.5 1000.48 L1688.0 1001.16 L1689.5 1001.84 L1691.0 1002.51 L1692.5 1003.18 L1694.0 1003.86 L1695.5 1004.54 L1697.0 1005.23 L1698.5 1005.92 L1700.0 1006.62 L1701.5 1007.33 L1703.0 1008.04 L1704.5 1008.77 L1706.0 1009.51 L1707.5 1010.27 L1709.0 1011.04 L1710.5 1011.82 L1712.0 1012.63 L1713.5 1013.45 L1715.0 1014.29 L1716.5 1015.15 L1718.0 1016.03 L1719.5 1016.94 L1721.0 1017.88 L1722.5 1018.84 L1724.0 1019.82 L1725.5 1020.84 L1727.0 1021.88 L1728.5 1022.95 L1730.0 1024.05 L1731.5 1025.16 L1733.0 1026.30 L1734.5 1027.46 L1736.0 1028.63 L1737.5 1029.82 L1739.0 1031.02 L1740.5 1032.24 L1742.0 1033.47 L1743.5 1034.70 L1745.0 1035.94 L1746.5 1037.19 L1748.0 1038.44 L1749.5 1039.69 L1751.0 1040.94 L1752.5 1042.19 L1754.0 1043.44 L1755.5 1044.68 L1757.0 1045.92 L1758.5 1047.14 L1760.0 1048.36 L1761.5 1049.56 L1763.0 1050.75 L1764.5 1051.92 L1766.0 1053.08 L1767.5 1054.22 L1769.0 1055.34 L1770.5 1056.44 L1772.0 1057.53 L1773.5 1058.59 L1775.0 1059.64 L1776.5 1060.67 L1778.0 1061.67 L1779.5 1062.66 L1781.0 1063.62 L1782.5 1064.56 L1784.0 1065.48 L1785.5 1066.37 L1787.0 1067.24 L1788.5 1068.09 L1790.0 1068.91 L1791.5 1069.71 L1793.0 1070.48 L1794.5 1071.22 L1796.0 1071.94 L1797.5 1072.63 L1799.0 1073.29 L1800.5 1073.92 L1802.0 1074.52 L1803.5 1075.10 L1805.0 1075.64 L1806.5 1076.16 L1808.0 1076.64 L1809.5 1077.09 L1811.0 1077.51 L1812.5 1077.90 L1814.0 1078.25 L1815.5 1078.58 L1817.0 1078.87 L1818.5 1079.14 L1820.0 1079.38 L1821.5 1079.59 L1823.0 1079.78 L1824.5 1079.93 L1826.0 1080.07 L1827.5 1080.18 L1829.0 1080.26 L1830.5 1080.32 L1832.0 1080.36 L1833.5 1080.38 L1835.0 1080.38 L1836.5 1080.36 L1838.0 1080.31 L1839.5 1080.25 L1841.0 1080.17 L1842.5 1080.08 L1844.0 1079.97 L1845.5 1079.84 L1847.0 1079.69 L1848.5 1079.54 L1850.0 1079.37 L1851.5 1079.18 L1853.0 1078.99 L1854.5 1078.78 L1856.0 1078.56 L1857.5 1078.33 L1859.0 1078.10 L1860.5 1077.85 L1862.0 1077.60 L1863.5 1077.34 L1865.0 1077.08 L1866.5 1076.81 L1868.0 1076.53 L1869.5 1076.25 L1871.0 1075.97 L1872.5 1075.69 L1874.0 1075.41 L1875.5 1075.12 L1877.0 1074.84 L1878.5 1074.56 L1880.0 1074.28 L1881.5 1074.00 L1883.0 1073.73 L1884.5 1073.46 L1886.0 1073.20 L1887.5 1072.94 L1889.0 1072.69 L1890.5 1072.45 L1892.0 1072.22 L1893.5 1072.00 L1895.0 1071.79 L1896.5 1071.59 L1898.0 1071.40 L1899.5 1071.22 L1901.0 1071.06 L1902.5 1070.92 L1904.0 1070.78 L1905.5 1070.67 L1907.0 1070.57 L1908.5 1070.49 L1910.0 1070.43 L1911.5 1070.39 L1913.0 1070.36 L1914.5 1070.36 L1916.0 1070.38 L1917.5 1070.43 L1919.0 1070.49 L1920.5 1070.59 L1922.0 1070.70 L1923.5 1070.85 L1925.0 1071.01 L1926.5 1071.20 L1928.0 1071.41 L1929.5 1071.64 L1931.0 1071.88 L1932.5 1072.15 L1934.0 1072.43 L1935.5 1072.72 L1937.0 1073.03 L1938.5 1073.36 L1940.0 1073.69 L1941.5 1074.03 L1943.0 1074.39 L1944.5 1074.75 L1946.0 1075.11 L1947.5 1075.48 L1949.0 1075.86 L1950.5 1076.23 L1952.0 1076.61 L1953.5 1076.99 L1955.0 1077.37 L1956.5 1077.75 L1958.0 1078.12 L1959.5 1078.48 L1961.0 1078.85 L1962.5 1079.20 L1964.0 1079.54 L1965.5 1079.88 L1967.0 1080.20 L1968.5 1080.52 L1970.0 1080.82 L1971.5 1081.10 L1973.0 1081.37 L1974.5 1081.62 L1976.0 1081.85 L1977.5 1082.07" stroke="#000" stroke-width="2.3"/>
</g>
<g stroke="#000" stroke-width="4.5" fill="none">
<rect x="347.0" y="46.4" width="1630.6" height="1213.1"/>
<path d="M347.0 1259.5 V1285.5 M347.0 46.4 V72.4 M463.5 1259.5 V1273.5 M463.5 46.4 V60.4 M579.9 1259.5 V1285.5 M579.9 46.4 V72.4 M696.4 1259.5 V1273.5 M696.4 46.4 V60.4 M812.9 1259.5 V1285.5 M812.9 46.4 V72.4 M929.4 1259.5 V1273.5 M929.4 46.4 V60.4 M1045.8 1259.5 V1285.5 M1045.8 46.4 V72.4 M1162.3 1259.5 V1273.5 M1162.3 46.4 V60.4 M1278.8 1259.5 V1285.5 M1278.8 46.4 V72.4 M1395.2 1259.5 V1273.5 M1395.2 46.4 V60.4 M1511.7 1259.5 V1285.5 M1511.7 46.4 V72.4 M1628.2 1259.5 V1273.5 M1628.2 46.4 V60.4 M1744.7 1259.5 V1285.5 M1744.7 46.4 V72.4 M1861.1 1259.5 V1273.5 M1861.1 46.4 V60.4 M1977.6 1259.5 V1285.5 M1977.6 46.4 V72.4 M347.0 1260.08 H333.0 M1977.6 1260.08 H1963.6 M347.0 1086.70 H321.0 M1977.6 1086.70 H1951.6 M347.0 913.32 H333.0 M1977.6 913.32 H1963.6 M347.0 739.93 H321.0 M1977.6 739.93 H1951.6 M347.0 566.55 H333.0 M1977.6 566.55 H1963.6 M347.0 393.17 H321.0 M1977.6 393.17 H1951.6 M347.0 219.78 H333.0 M1977.6 219.78 H1963.6 M347.0 46.40 H321.0 M1977.6 46.40 H1951.6"/>
</g>
<rect x="408.6" y="122.4" width="443.1" height="330" fill="#000"/>
<rect x="391.7" y="106" width="441.75" height="327.4" fill="#fff" stroke="#000" stroke-width="2"/>
<g stroke-width="2.7">
<path d="M439.2 165.8 H540.8" stroke="#000"/>
<path d="M439.2 219.6 H540.8" stroke="#ff0000"/>
<path d="M439.2 273.4 H540.8" stroke="#00ff00"/>
<path d="M439.2 327.2 H540.8" stroke="#0000ff"/>
<path d="M439.2 381.6 H540.8" stroke="#00ffff" stroke-width="4.6" stroke-dasharray="18 12"/>
</g>
<text transform="translate(346.20 1342.00) scale(0.9260 1)" x="-62.83" y="0" font-size="56.50" clip-path="url(#c0)">1720</text><text transform="translate(579.14 1342.00) scale(0.9260 1)" x="-62.83" y="0" font-size="56.50" clip-path="url(#c1)">1700</text><text transform="translate(812.09 1342.00) scale(0.9260 1)" x="-62.83" y="0" font-size="56.50" clip-path="url(#c2)">1680</text><text transform="translate(1045.03 1342.00) scale(0.9260 1)" x="-62.83" y="0" font-size="56.50" clip-path="url(#c3)">1660</text><text transform="translate(1277.97 1342.00) scale(0.9260 1)" x="-62.83" y="0" font-size="56.50" clip-path="url(#c4)">1640</text><text transform="translate(1510.91 1342.00) scale(0.9260 1)" x="-62.83" y="0" font-size="56.50" clip-path="url(#c5)">1620</text><text transform="translate(1743.86 1342.00) scale(0.9260 1)" x="-62.83" y="0" font-size="56.50" clip-path="url(#c6)">1600</text><text transform="translate(1976.80 1342.00) scale(0.9260 1)" x="-62.83" y="0" font-size="56.50" clip-path="url(#c7)">1580</text><text transform="translate(305.74 62.60) scale(0.9520 1)" x="-140.11" y="0" font-size="56.00" clip-path="url(#c8)">0.015</text><text transform="translate(305.74 409.37) scale(0.9520 1)" x="-140.11" y="0" font-size="56.00" clip-path="url(#c9)">0.010</text><text transform="translate(305.74 756.13) scale(0.9520 1)" x="-140.11" y="0" font-size="56.00">0.005</text><text transform="translate(305.74 1102.90) scale(0.9520 1)" x="-140.11" y="0" font-size="56.00">0.000</text><text transform="translate(551 179.8) scale(0.978 1)" x="0" y="0" font-size="45">Control(t48)</text><text transform="translate(551.00 233.70) scale(0.9780 1)" x="0.00" y="0" font-size="45.00" clip-path="url(#c10)">1633</text><text transform="translate(551.00 287.60) scale(0.9780 1)" x="0.00" y="0" font-size="45.00" clip-path="url(#c11)">1654</text><text transform="translate(551.00 341.50) scale(0.9780 1)" x="0.00" y="0" font-size="45.00" clip-path="url(#c12)">1676</text><text transform="translate(551 395.4) scale(0.978 1)" x="0" y="0" font-size="45">Cumulative</text>
<text y="1495" font-size="106.5" clip-path="url(#csup)"><tspan x="700">Wavenumber</tspan> <tspan x="1355.2">(cm</tspan><tspan x="1530.2" y="1443" font-size="65" stroke="#000" stroke-width="2.2">-</tspan><tspan x="1554.9" y="1441" font-size="65">1</tspan><tspan x="1591.5" y="1495">)</tspan></text>
<text transform="translate(108.2 724.8) rotate(-90) scale(1.01 1)" x="0" y="0" font-size="107.5" text-anchor="middle">Absorbance</text>
</svg>
</body></html>
